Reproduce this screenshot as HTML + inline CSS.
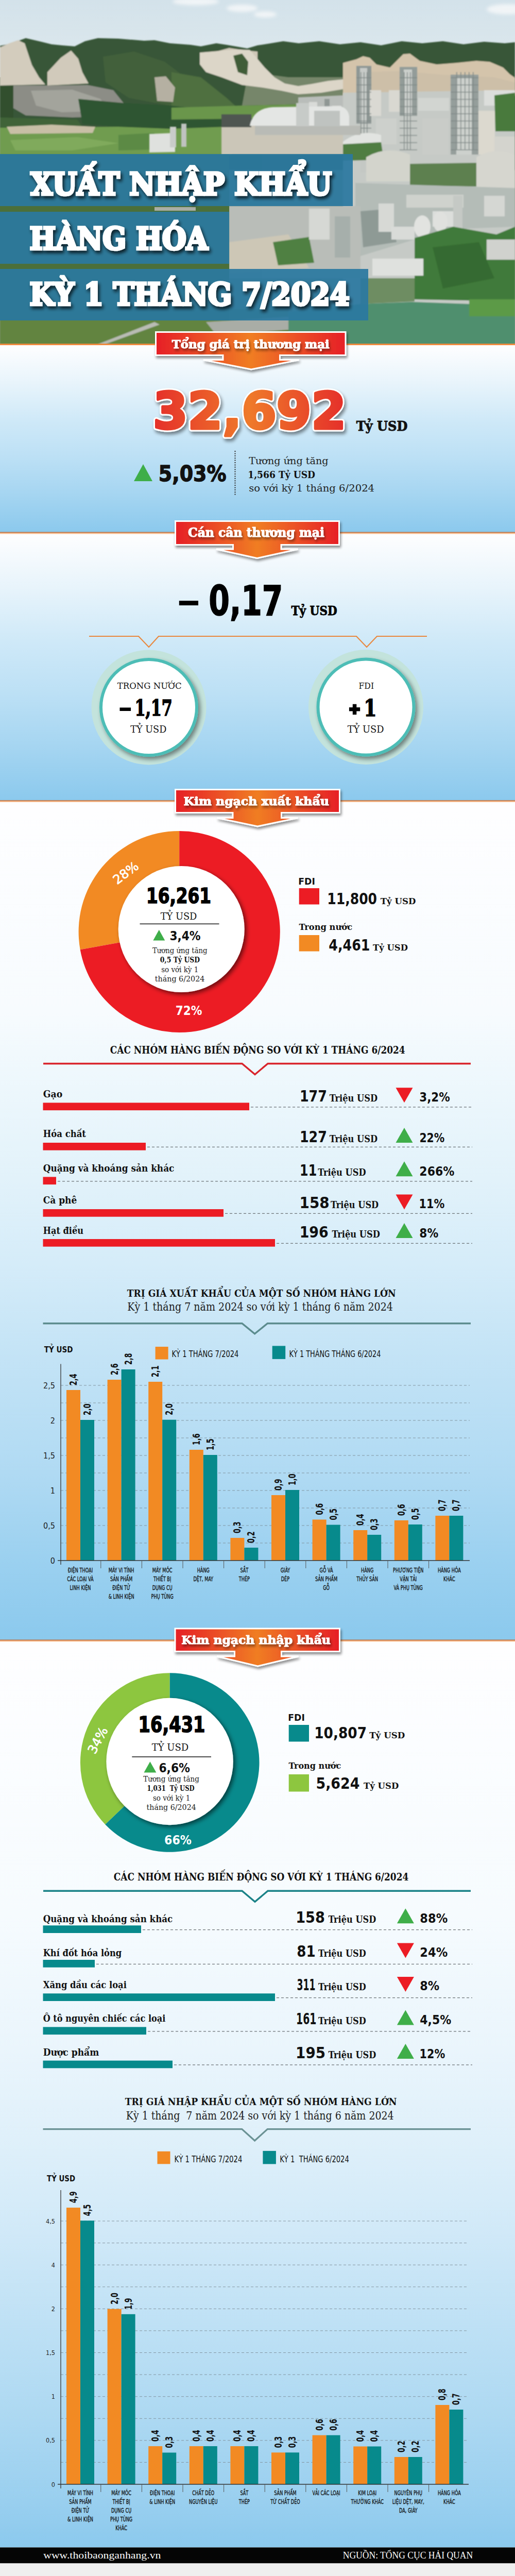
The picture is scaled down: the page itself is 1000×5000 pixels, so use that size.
<!DOCTYPE html><html lang="vi"><head><meta charset="utf-8"><title>Xuất nhập khẩu hàng hóa kỳ 1 tháng 7/2024</title><style>html,body{margin:0;padding:0;background:#fff}svg{display:block}</style></head><body>
<svg width="1000" height="5000" viewBox="0 0 1000 5000">
<defs>
<linearGradient id="gB" x1="0" y1="0" x2="0" y2="1"><stop offset="0" stop-color="#fefeff"/><stop offset="0.2" stop-color="#e8f4fb"/><stop offset="0.4" stop-color="#cfe9f8"/><stop offset="0.6" stop-color="#bce0f5"/><stop offset="0.8" stop-color="#a5d5f1"/><stop offset="1" stop-color="#8bc9ed"/></linearGradient>
<linearGradient id="gD" x1="0" y1="0" x2="0" y2="1"><stop offset="0" stop-color="#fefeff"/><stop offset="0.25" stop-color="#f7fbfe"/><stop offset="0.3" stop-color="#f1f9fd"/><stop offset="0.45" stop-color="#e2f2fa"/><stop offset="0.55" stop-color="#d5ecf9"/><stop offset="0.65" stop-color="#c5e4f6"/><stop offset="0.8" stop-color="#b0daf3"/><stop offset="0.9" stop-color="#9cd1f0"/><stop offset="1" stop-color="#8bc9ed"/></linearGradient>
<linearGradient id="gE" x1="0" y1="0" x2="0" y2="1"><stop offset="0" stop-color="#fefeff"/><stop offset="0.3" stop-color="#f6fbfe"/><stop offset="0.45" stop-color="#eaf5fc"/><stop offset="0.55" stop-color="#dff0fa"/><stop offset="0.65" stop-color="#d1e9f8"/><stop offset="0.75" stop-color="#bfe1f5"/><stop offset="0.85" stop-color="#aed9f2"/><stop offset="0.95" stop-color="#99cfef"/><stop offset="1" stop-color="#8bc9ed"/></linearGradient>
<linearGradient id="gRib" x1="0" y1="0" x2="1" y2="0">
 <stop offset="0" stop-color="#e61f27"/><stop offset="0.5" stop-color="#f07d24"/>
 <stop offset="1" stop-color="#e61f27"/></linearGradient>
<linearGradient id="gBig" gradientUnits="userSpaceOnUse" x1="298" y1="0" x2="668" y2="0">
 <stop offset="0" stop-color="#e5302a"/><stop offset="0.5" stop-color="#ef7a2a"/>
 <stop offset="1" stop-color="#e5302a"/></linearGradient>
<linearGradient id="gSky" x1="0" y1="0" x2="0" y2="1">
 <stop offset="0" stop-color="#d3e2ea"/><stop offset="1" stop-color="#dfe9ed"/></linearGradient>
<filter id="fSh" x="-10%" y="-20%" width="130%" height="160%">
 <feGaussianBlur in="SourceAlpha" stdDeviation="2.5"/><feOffset dx="2" dy="4" result="o"/>
 <feComponentTransfer><feFuncA type="linear" slope="0.45"/></feComponentTransfer>
 <feMerge><feMergeNode/><feMergeNode in="SourceGraphic"/></feMerge></filter>
<filter id="fTx" x="-10%" y="-20%" width="130%" height="160%">
 <feGaussianBlur in="SourceAlpha" stdDeviation="3"/><feOffset dx="3" dy="5" result="o"/>
 <feComponentTransfer><feFuncA type="linear" slope="0.75"/></feComponentTransfer>
 <feMerge><feMergeNode/><feMergeNode in="SourceGraphic"/></feMerge></filter>
<filter id="fBig" x="-10%" y="-20%" width="130%" height="160%">
 <feGaussianBlur in="SourceAlpha" stdDeviation="3"/><feOffset dx="3" dy="5" result="o"/>
 <feComponentTransfer><feFuncA type="linear" slope="0.45"/></feComponentTransfer>
 <feMerge><feMergeNode/><feMergeNode in="SourceGraphic"/></feMerge></filter>
<filter id="fCirc" x="-20%" y="-20%" width="150%" height="150%">
 <feGaussianBlur in="SourceAlpha" stdDeviation="4"/><feOffset dx="4" dy="5" result="o"/>
 <feComponentTransfer><feFuncA type="linear" slope="0.45"/></feComponentTransfer>
 <feMerge><feMergeNode/><feMergeNode in="SourceGraphic"/></feMerge></filter>
<filter id="fDon" x="-20%" y="-20%" width="150%" height="150%">
 <feGaussianBlur in="SourceAlpha" stdDeviation="4"/><feOffset dx="4" dy="4" result="o"/>
 <feComponentTransfer><feFuncA type="linear" slope="0.55"/></feComponentTransfer>
 <feMerge><feMergeNode/><feMergeNode in="SourceGraphic"/></feMerge></filter>
<filter id="blur1"><feGaussianBlur stdDeviation="1.2"/></filter>
<filter id="blur3"><feGaussianBlur stdDeviation="3"/></filter>
</defs>
<g id="hero">
<rect x="0.0" y="0.0" width="1000.0" height="668.0" fill="#8a9a86" />
<rect x="0.0" y="0.0" width="1000.0" height="150.0" fill="url(#gSky)" />
<g filter="url(#blur3)" fill="#f6f8f9" opacity="0.85"><ellipse cx="380" cy="3" rx="45" ry="7"/><ellipse cx="470" cy="16" rx="30" ry="7"/><ellipse cx="515" cy="28" rx="22" ry="6"/><ellipse cx="985" cy="18" rx="40" ry="10"/></g>
<g filter="url(#blur1)">
<polygon points="0,89 20,85 50,74 80,81 100,86 120,88 145,90 165,80 190,74 230,75 280,79 300,78 330,84 370,87 390,90 420,84 440,87 480,94 500,88 520,85 550,80 580,84 620,80 660,86 700,82 740,88 780,80 820,84 860,80 900,86 940,81 980,84 1000,82 1000,330 0,330" fill="#375638" />
<polygon points="200,110 260,100 320,120 360,150 400,190 330,205 250,190 205,160" fill="#42603b" />
<polygon points="333,140 390,150 440,190 462,210 333,212" fill="#4f7040" />
<polygon points="482,140 560,150 666,150 666,200 470,205" fill="#76866a" />
<polygon points="0,92 18,84 35,78 48,84 54,102 62,126 76,150 88,164 0,166" fill="#d3ccbd" />
<polygon points="92,140 118,112 138,98 152,114 160,140 172,162 92,166" fill="#d1cabb" />
<polygon points="300,150 322,148 340,170 336,198 305,196" fill="#b5b0a2" />
<polygon points="420,100 445,93 478,98 500,100 500,150 470,160 452,132" fill="#cfc8b8" />
<polygon points="388,102 423,99 462,96 485,97 498,112 514,131 533,150 553,162 579,167 605,163 637,157 666,154 666,173 624,180 579,183 546,176 510,170 470,165 430,150 400,140 388,125" fill="#dcd6c8" />
<polygon points="453,108 470,104 482,120 480,146 462,140" fill="#3f5d39" />
<polygon points="666,122 692,115 705,109 718,112 731,125 757,131 783,105 796,104 815,118 848,125 886,122 925,118 951,120 977,131 990,144 1000,151 1000,185 925,182 861,180 796,182 731,185 666,190" fill="#d4c4ab" />
<polygon points="700,140 780,138 860,145 960,150 1000,160 1000,185 700,190" fill="#cdbfa8" />
<polygon points="26,166 90,166 170,165 220,175 240,200 225,226 140,228 50,224 26,210" fill="#8c8d86" />
<polygon points="60,176 140,174 195,192 210,215 120,218 70,205" fill="#a3a49c" />
<polygon points="0,166 26,166 26,245 0,245" fill="#33502f" />
<polygon points="152,192 240,200 330,205 400,212 440,225 430,246 330,250 230,246 160,240" fill="#2e5430" />
<polygon points="0,228 150,232 160,246 0,248" fill="#3f6438" />
<polygon points="333,209 470,205 666,200 666,228 333,232" fill="#6a964c" />
<polygon points="0,248 230,246 330,250 440,246 450,300 0,300" fill="#6f9c50" />
<polygon points="13,246 100,242 185,246 180,258 20,260" fill="#c8bfa6" />
<polygon points="20,272 150,266 230,278 140,292 30,292" fill="#80aa5c" />
<polygon points="230,262 300,258 300,290 230,292" fill="#5c8a45" />
</g>
<g filter="url(#blur1)">
<polygon points="430,244 666,240 666,300 430,300" fill="#cbc6b8" />
<polygon points="430,222 488,222 488,247 430,247" fill="#4f5651" />
<polygon points="579,189 666,185 666,247 579,247" fill="#b9bdba" />
<rect x="600.0" y="198.0" width="16.0" height="48.0" fill="#d9dbd8" />
<rect x="630.0" y="192.0" width="10.0" height="55.0" fill="#8f9794" />
<rect x="645.0" y="205.0" width="18.0" height="40.0" fill="#d3d5d2" />
<polygon points="290,260 340,258 340,295 290,296" fill="#dfe1de" />
<rect x="330.0" y="246.0" width="12.0" height="40.0" fill="#c9ccc9" />
<rect x="352.0" y="240.0" width="10.0" height="45.0" fill="#bfc3c0" />
<polygon points="666,180 1000,175 1000,668 666,668" fill="#c6cac6" />
<rect x="692.0" y="128.0" width="29.0" height="112.0" fill="#8e9794" />
<rect x="699.0" y="132.0" width="14.0" height="105.0" fill="#c7cbc8" />
<rect x="718.0" y="175.0" width="22.0" height="50.0" fill="#dad9d3" />
<rect x="755.0" y="175.0" width="23.0" height="42.0" fill="#d9d8d1" />
<rect x="776.0" y="130.0" width="34.0" height="95.0" fill="#939c99" />
<rect x="784.0" y="135.0" width="16.0" height="88.0" fill="#ccd0cc" />
<rect x="875.0" y="145.0" width="54.0" height="155.0" fill="#959e9b" />
<rect x="886.0" y="150.0" width="30.0" height="150.0" fill="#cdd1cd" />
<rect x="929.0" y="215.0" width="32.0" height="85.0" fill="#dcd9cf" />
<rect x="960.0" y="265.0" width="40.0" height="50.0" fill="#d4d4ce" />
<rect x="940.0" y="175.0" width="60.0" height="30.0" fill="#dcdedb" />
<rect x="812.0" y="190.0" width="60.0" height="25.0" fill="#d2d5d1" />
<rect x="730.0" y="230.0" width="40.0" height="50.0" fill="#cdd0cc" />
<rect x="820.0" y="230.0" width="50.0" height="70.0" fill="#c9ccc8" />
<rect x="700.0" y="290.0" width="50.0" height="45.0" fill="#c4c8c4" />
<path d="M600,250 Q640,238 690,248 L690,262 L600,262 Z" fill="#e3e4e1"/>
<rect x="700.0" y="140.0" width="1.5" height="150.0" fill="#7f8886" />
<rect x="706.0" y="140.0" width="1.5" height="150.0" fill="#7f8886" />
<rect x="712.0" y="140.0" width="1.5" height="150.0" fill="#7f8886" />
<rect x="784.0" y="140.0" width="1.5" height="150.0" fill="#7f8886" />
<rect x="790.0" y="140.0" width="1.5" height="150.0" fill="#7f8886" />
<rect x="796.0" y="140.0" width="1.5" height="150.0" fill="#7f8886" />
<rect x="886.0" y="140.0" width="1.5" height="150.0" fill="#7f8886" />
<rect x="894.0" y="140.0" width="1.5" height="150.0" fill="#7f8886" />
<rect x="902.0" y="140.0" width="1.5" height="150.0" fill="#7f8886" />
<rect x="910.0" y="140.0" width="1.5" height="150.0" fill="#7f8886" />
<rect x="918.0" y="140.0" width="1.5" height="150.0" fill="#7f8886" />
<rect x="692.0" y="150.0" width="29.0" height="1.5" fill="#7f8886" />
<rect x="776.0" y="150.0" width="34.0" height="1.5" fill="#7f8886" />
<rect x="875.0" y="150.0" width="54.0" height="1.5" fill="#7f8886" />
<rect x="692.0" y="164.0" width="29.0" height="1.5" fill="#7f8886" />
<rect x="776.0" y="164.0" width="34.0" height="1.5" fill="#7f8886" />
<rect x="875.0" y="164.0" width="54.0" height="1.5" fill="#7f8886" />
<rect x="692.0" y="178.0" width="29.0" height="1.5" fill="#7f8886" />
<rect x="776.0" y="178.0" width="34.0" height="1.5" fill="#7f8886" />
<rect x="875.0" y="178.0" width="54.0" height="1.5" fill="#7f8886" />
<rect x="692.0" y="192.0" width="29.0" height="1.5" fill="#7f8886" />
<rect x="776.0" y="192.0" width="34.0" height="1.5" fill="#7f8886" />
<rect x="875.0" y="192.0" width="54.0" height="1.5" fill="#7f8886" />
<rect x="692.0" y="206.0" width="29.0" height="1.5" fill="#7f8886" />
<rect x="776.0" y="206.0" width="34.0" height="1.5" fill="#7f8886" />
<rect x="875.0" y="206.0" width="54.0" height="1.5" fill="#7f8886" />
<rect x="692.0" y="220.0" width="29.0" height="1.5" fill="#7f8886" />
<rect x="776.0" y="220.0" width="34.0" height="1.5" fill="#7f8886" />
<rect x="875.0" y="220.0" width="54.0" height="1.5" fill="#7f8886" />
<rect x="692.0" y="234.0" width="29.0" height="1.5" fill="#7f8886" />
<rect x="776.0" y="234.0" width="34.0" height="1.5" fill="#7f8886" />
<rect x="875.0" y="234.0" width="54.0" height="1.5" fill="#7f8886" />
<rect x="692.0" y="248.0" width="29.0" height="1.5" fill="#7f8886" />
<rect x="776.0" y="248.0" width="34.0" height="1.5" fill="#7f8886" />
<rect x="875.0" y="248.0" width="54.0" height="1.5" fill="#7f8886" />
<rect x="692.0" y="262.0" width="29.0" height="1.5" fill="#7f8886" />
<rect x="776.0" y="262.0" width="34.0" height="1.5" fill="#7f8886" />
<rect x="875.0" y="262.0" width="54.0" height="1.5" fill="#7f8886" />
<rect x="692.0" y="276.0" width="29.0" height="1.5" fill="#7f8886" />
<rect x="776.0" y="276.0" width="34.0" height="1.5" fill="#7f8886" />
<rect x="875.0" y="276.0" width="54.0" height="1.5" fill="#7f8886" />
<rect x="692.0" y="290.0" width="29.0" height="1.5" fill="#7f8886" />
<rect x="776.0" y="290.0" width="34.0" height="1.5" fill="#7f8886" />
<rect x="875.0" y="290.0" width="54.0" height="1.5" fill="#7f8886" />
<polygon points="960,185 1000,180 1000,255 962,255" fill="#4a7a3c" />
<path d="M666,275 Q700,250 740,262 L740,278 L666,280 Z" fill="#e2e4e1"/>
<polygon points="666,280 740,276 745,310 666,312" fill="#4f7d43" />
<path d="M485,244 Q492,210 530,208 L660,206 Q676,210 678,226 L678,244 Z" fill="#e4e6e4"/>
<polygon points="495,244 700,244 700,262 495,262" fill="#b9bbb6" />
<rect x="575.0" y="200.0" width="25.0" height="45.0" fill="#c7cbc8" />
<rect x="610.0" y="215.0" width="50.0" height="30.0" fill="#bfc3c0" />
<path d="M711,352 L711,305 Q750,282 796,300 L796,352 Z" fill="#d3d4cc"/>
<path d="M925,368 L925,305 Q960,285 1000,300 L1000,368 Z" fill="#d6d6cf"/>
<polygon points="796,318 925,316 925,362 796,360" fill="#5d8050" />
<polygon points="690,355 1000,365 1000,440 870,445 690,500" fill="#b4bcb7" />
<polygon points="789,378 900,378 900,403 789,403" fill="#cfd2cd" />
<polygon points="700,410 760,405 770,470 705,480" fill="#8e9a95" />
<rect x="880.0" y="380.0" width="18.0" height="70.0" fill="#c5c9c5" />
<rect x="735.0" y="395.0" width="30.0" height="55.0" fill="#d7d9d5" />
<rect x="840.0" y="410.0" width="40.0" height="30.0" fill="#dcdedb" />
<rect x="760.0" y="440.0" width="45.0" height="25.0" fill="#d9dbd8" />
<rect x="940.0" y="380.0" width="40.0" height="40.0" fill="#d5d7d3" />
<ellipse cx="820" cy="440" rx="16" ry="22" fill="#e2e3e0"/><ellipse cx="855" cy="430" rx="14" ry="20" fill="#e0e1de"/>
<polygon points="445,400 700,400 700,540 445,540" fill="#b9bdb8" />
<polygon points="445,470 560,455 600,520 445,530" fill="#cdc7b6" />
<polygon points="530,470 600,460 610,510 540,515" fill="#4f8043" />
<rect x="600.0" y="405.0" width="40.0" height="60.0" fill="#d6d8d4" />
<rect x="650.0" y="420.0" width="30.0" height="80.0" fill="#a6afab" />
<polygon points="805,462 880,440 964,455 1000,440 1000,585 805,581" fill="#417a3a" />
<polygon points="840,480 930,470 960,540 860,560" fill="#356b31" />
<polygon points="723,502 822,502 822,535 723,535" fill="#dfe1de" />
<polygon points="945,465 1000,465 1000,504 945,504" fill="#d0d2ce" />
<polygon points="700,540 805,540 805,585 700,590" fill="#6e8d62" />
<polygon points="911,581 1000,581 1000,614 911,614" fill="#5c9a46" />
<polygon points="560,605 700,590 800,586 911,590 911,614 1000,614 1000,668 560,668" fill="#4f8f6e" />
<polygon points="0,600 560,600 560,668 0,668" fill="#62843f" />
<polygon points="190,668 300,625 310,630 205,668" fill="#b9bcb4" />
<polygon points="400,625 560,615 560,640 420,650" fill="#a9ada6" />
</g>
<rect x="0.0" y="300.0" width="445.0" height="322.0" fill="#4b6f3a" />
<rect x="300.0" y="402.0" width="80.0" height="7.0" fill="#a9aea5" />
<g opacity="0.93">
<rect x="0.0" y="299.0" width="685.0" height="101.0" fill="#2b79a0" />
<rect x="0.0" y="411.0" width="445.0" height="101.0" fill="#2b79a0" />
<rect x="0.0" y="522.0" width="715.0" height="100.0" fill="#2b79a0" />
</g>
<rect x="0.0" y="667.0" width="1000.0" height="3.0" fill="#ef8a3e" />
</g>
<rect x="0.0" y="670.0" width="1000.0" height="363.0" fill="url(#gB)" />
<rect x="0.0" y="1035.5" width="1000.0" height="519.0" fill="url(#gB)" />
<rect x="0.0" y="1556.5" width="1000.0" height="1627.0" fill="url(#gD)" />
<rect x="0.0" y="3185.5" width="1000.0" height="1759.0" fill="url(#gE)" />
<rect x="0.0" y="1032.5" width="1000.0" height="1.6" fill="#b9784f" />
<rect x="0.0" y="1034.1" width="1000.0" height="1.6" fill="#ef9a5c" />
<rect x="0.0" y="1035.7" width="1000.0" height="1.0" fill="#fbd9bd" />
<rect x="0.0" y="1553.0" width="1000.0" height="1.6" fill="#b9784f" />
<rect x="0.0" y="1554.6" width="1000.0" height="1.6" fill="#ef9a5c" />
<rect x="0.0" y="1556.2" width="1000.0" height="1.0" fill="#fbd9bd" />
<rect x="0.0" y="3182.5" width="1000.0" height="1.6" fill="#b9784f" />
<rect x="0.0" y="3184.1" width="1000.0" height="1.6" fill="#ef9a5c" />
<rect x="0.0" y="3185.7" width="1000.0" height="1.0" fill="#fbd9bd" />
<rect x="0.0" y="4944.5" width="1000.0" height="31.0" fill="#050505" />
<rect x="0.0" y="4975.5" width="1000.0" height="24.5" fill="#efefef" />
<text x="84.2" y="4965.5" font-family="'Liberation Serif', 'DejaVu Serif', serif" font-size="19.5" font-weight="normal" fill="#ffffff" textLength="228.2" lengthAdjust="spacingAndGlyphs" >www.thoibaonganhang.vn</text>
<text x="665.7" y="4966.0" font-family="'Liberation Serif', 'DejaVu Serif', serif" font-size="18" font-weight="normal" fill="#ffffff" textLength="252.5" lengthAdjust="spacingAndGlyphs" >NGUỒN: TỔNG CỤC HẢI QUAN</text>
<g filter="url(#fTx)">
<text x="59.5" y="377.5" font-family="'DejaVu Serif', 'Liberation Serif', serif" font-size="59.5" font-weight="bold" fill="#ffffff" textLength="584.5" lengthAdjust="spacingAndGlyphs" stroke="#ffffff" stroke-width="4.6" stroke-linejoin="miter" stroke-miterlimit="2.5">XUẤT NHẬP KHẨU</text>
<text x="57.5" y="484.0" font-family="'DejaVu Serif', 'Liberation Serif', serif" font-size="59.5" font-weight="bold" fill="#ffffff" textLength="346.0" lengthAdjust="spacingAndGlyphs" stroke="#ffffff" stroke-width="4.6" stroke-linejoin="miter" stroke-miterlimit="2.5">HÀNG HÓA</text>
<text x="57.6" y="591.5" font-family="'DejaVu Serif', 'Liberation Serif', serif" font-size="59.5" font-weight="bold" fill="#ffffff" textLength="621.0" lengthAdjust="spacingAndGlyphs" stroke="#ffffff" stroke-width="4.6" stroke-linejoin="miter" stroke-miterlimit="2.5">KỲ 1 THÁNG 7/2024</text>
</g>
<g filter="url(#fSh)"><path d="M302.5,644.5 H671 V689.5 H543.5 V698.5 H580.5 L487.8,717 L395,698.5 H433 V689.5 H302.5 Z" fill="url(#gRib)" stroke="#ffffff" stroke-width="3" stroke-linejoin="miter"/></g>
<g filter="url(#fSh)">
<text x="333.8" y="675.5" font-family="'DejaVu Serif', 'Liberation Serif', serif" font-size="21.5" font-weight="bold" fill="#ffffff" textLength="305.8" lengthAdjust="spacingAndGlyphs" stroke="#ffffff" stroke-width="1.1">Tổng giá trị thương mại</text>
</g>
<g filter="url(#fBig)">
<text x="297.0" y="832.0" font-family="'DejaVu Sans', 'Liberation Sans', sans-serif" font-size="98" font-weight="bold" fill="#ffffff" textLength="375.0" lengthAdjust="spacingAndGlyphs" stroke="#ffffff" stroke-width="11" stroke-linejoin="round">32,692</text>
</g>
<text x="297.0" y="832.0" font-family="'DejaVu Sans', 'Liberation Sans', sans-serif" font-size="98" font-weight="bold" fill="url(#gBig)" textLength="375.0" lengthAdjust="spacingAndGlyphs" stroke="url(#gBig)" stroke-width="5" stroke-linejoin="round">32,692</text>
<text x="691.7" y="835.5" font-family="'DejaVu Serif', 'Liberation Serif', serif" font-size="26" font-weight="bold" fill="#111" textLength="99.6" lengthAdjust="spacingAndGlyphs" stroke="#111" stroke-width="0.9">Tỷ USD</text>
<polygon points="260.0,934.0 296.0,934.0 278.0,901.0" fill="#3fae49"/>
<text x="307.8" y="933.5" font-family="'DejaVu Sans', 'Liberation Sans', sans-serif" font-size="43" font-weight="bold" fill="#111" textLength="131.7" lengthAdjust="spacingAndGlyphs" stroke="#111" stroke-width="1.4">5,03%</text>
<line x1="456.5" y1="875" x2="456.5" y2="962" stroke="#333" stroke-width="2.2" stroke-dasharray="2 2.4"/>
<text x="483.2" y="901.0" font-family="'DejaVu Serif Condensed', 'DejaVu Serif', 'Liberation Serif', serif" font-size="19" font-weight="normal" fill="#222" textLength="154.4" lengthAdjust="spacingAndGlyphs" >Tương ứng tăng</text>
<text x="481.2" y="927.5" font-family="'DejaVu Serif Condensed', 'DejaVu Serif', 'Liberation Serif', serif" font-size="19" font-weight="bold" fill="#111" textLength="130.8" lengthAdjust="spacingAndGlyphs" >1,566 Tỷ USD</text>
<text x="483.2" y="954.0" font-family="'DejaVu Serif Condensed', 'DejaVu Serif', 'Liberation Serif', serif" font-size="19" font-weight="normal" fill="#222" textLength="243.9" lengthAdjust="spacingAndGlyphs" >so với kỳ 1 tháng 6/2024</text>
<g filter="url(#fSh)"><path d="M340.5,1011.5 H658.5 V1057.5 H546 V1066 H578.5 L499.2,1083.5 L420,1066 H452.5 V1057.5 H340.5 Z" fill="url(#gRib)" stroke="#ffffff" stroke-width="3" stroke-linejoin="miter"/></g>
<g filter="url(#fSh)">
<text x="365.0" y="1042.1" font-family="'DejaVu Serif', 'Liberation Serif', serif" font-size="24" font-weight="bold" fill="#ffffff" textLength="264.8" lengthAdjust="spacingAndGlyphs" stroke="#ffffff" stroke-width="1.1">Cán cân thương mại</text>
</g>
<rect x="347.8" y="1166.0" width="37.2" height="9.0" fill="#000" />
<text x="405.3" y="1194.0" font-family="'DejaVu Sans', 'Liberation Sans', sans-serif" font-size="80" font-weight="bold" fill="#000" textLength="144.2" lengthAdjust="spacingAndGlyphs" stroke="#000" stroke-width="1.6">0,17</text>
<text x="565.6" y="1193.5" font-family="'DejaVu Serif', 'Liberation Serif', serif" font-size="23.5" font-weight="bold" fill="#000" textLength="89.0" lengthAdjust="spacingAndGlyphs" stroke="#000" stroke-width="0.8">Tỷ USD</text>
<polyline points="173,1235 269,1235 289,1256 308,1235 692,1235 712,1256 732,1235 829,1235" fill="none" stroke="#e9883e" stroke-width="2.2"/>
<circle cx="289" cy="1373" r="111.5" fill="#c3e3dc"/>
<g filter="url(#fCirc)"><circle cx="289" cy="1373" r="93" fill="#ffffff" stroke="#4dbdb6" stroke-width="6"/></g>
<text x="227.7" y="1337.3" font-family="'DejaVu Serif Condensed', 'DejaVu Serif', 'Liberation Serif', serif" font-size="17.5" font-weight="normal" fill="#111" textLength="124.9" lengthAdjust="spacingAndGlyphs" >TRONG NƯỚC</text>
<rect x="232.5" y="1373.4" width="21.6" height="6.6" fill="#000" />
<text x="261.8" y="1388.8" font-family="'DejaVu Serif Condensed', 'DejaVu Serif', 'Liberation Serif', serif" font-size="42" font-weight="bold" fill="#000" textLength="72.9" lengthAdjust="spacingAndGlyphs" stroke="#000" stroke-width="1.6">1,17</text>
<text x="253.2" y="1421.5" font-family="'DejaVu Serif Condensed', 'DejaVu Serif', 'Liberation Serif', serif" font-size="17.8" font-weight="normal" fill="#111" textLength="70.1" lengthAdjust="spacingAndGlyphs" >TỶ USD</text>
<circle cx="710.5" cy="1372.5" r="111.5" fill="#c3e3dc"/>
<g filter="url(#fCirc)"><circle cx="710.5" cy="1372.5" r="93" fill="#ffffff" stroke="#4dbdb6" stroke-width="6"/></g>
<text x="696.5" y="1337.3" font-family="'DejaVu Serif Condensed', 'DejaVu Serif', 'Liberation Serif', serif" font-size="17.5" font-weight="normal" fill="#111" textLength="29.6" lengthAdjust="spacingAndGlyphs" >FDI</text>
<rect x="677.9" y="1373.0" width="21.3" height="7.4" fill="#000" />
<rect x="684.8" y="1366.7" width="7.5" height="20.4" fill="#000" />
<text x="706.4" y="1389.5" font-family="'DejaVu Serif', 'Liberation Serif', serif" font-size="44" font-weight="bold" fill="#000" textLength="24.9" lengthAdjust="spacingAndGlyphs" stroke="#000" stroke-width="1.6">1</text>
<text x="674.7" y="1421.5" font-family="'DejaVu Serif Condensed', 'DejaVu Serif', 'Liberation Serif', serif" font-size="17.8" font-weight="normal" fill="#111" textLength="70.8" lengthAdjust="spacingAndGlyphs" >TỶ USD</text>
<g filter="url(#fSh)"><path d="M340.5,1532.5 H659.5 V1577.5 H546.5 V1587.5 H578.5 L500.0,1604 L421.5,1587.5 H452 V1577.5 H340.5 Z" fill="url(#gRib)" stroke="#ffffff" stroke-width="3" stroke-linejoin="miter"/></g>
<g filter="url(#fSh)">
<text x="356.5" y="1562.9" font-family="'DejaVu Serif', 'Liberation Serif', serif" font-size="23" font-weight="bold" fill="#ffffff" textLength="282.3" lengthAdjust="spacingAndGlyphs" stroke="#ffffff" stroke-width="1.1">Kim ngạch xuất khẩu</text>
</g>
<path d="M155.69,1843.14 A195.6,195.6 0 0 1 348.20,1612.90 L348.20,1808.49 A0.01,0.01 0 0 0 348.19,1808.50 Z" fill="#f28a23"/>
<path d="M348.20,1612.90 A195.6,195.6 0 1 1 155.69,1843.14 L348.19,1808.50 A0.01,0.01 0 1 0 348.20,1808.49 Z" fill="#ec1c24"/>
<g filter="url(#fDon)"><circle cx="352.2" cy="1803.5" r="122.5" fill="#ffffff"/></g>
<text x="283.9" y="1753.0" font-family="'DejaVu Sans Condensed', 'DejaVu Sans', 'Liberation Sans', sans-serif" font-size="41" font-weight="bold" fill="#000" textLength="126.2" lengthAdjust="spacingAndGlyphs" stroke="#000" stroke-width="1.5">16,261</text>
<text x="311.7" y="1785.2" font-family="'DejaVu Serif Condensed', 'DejaVu Serif', 'Liberation Serif', serif" font-size="18" font-weight="normal" fill="#111" textLength="70.7" lengthAdjust="spacingAndGlyphs" >TỶ USD</text>
<rect x="271.5" y="1792.5" width="154.0" height="1.6" fill="#222" />
<polygon points="297.3,1825.6 320.3,1825.6 308.8,1804.7" fill="#3fae49"/>
<text x="329.4" y="1825.0" font-family="'DejaVu Sans', 'Liberation Sans', sans-serif" font-size="25.5" font-weight="bold" fill="#111" textLength="60.2" lengthAdjust="spacingAndGlyphs" >3,4%</text>
<text x="295.9" y="1849.5" font-family="'DejaVu Serif Condensed', 'DejaVu Serif', 'Liberation Serif', serif" font-size="15" font-weight="normal" fill="#222" textLength="106.7" lengthAdjust="spacingAndGlyphs" >Tương ứng tăng</text>
<text x="310.7" y="1868.2" font-family="'DejaVu Serif Condensed', 'DejaVu Serif', 'Liberation Serif', serif" font-size="15" font-weight="bold" fill="#111" textLength="77.4" lengthAdjust="spacingAndGlyphs" >0,5 Tỷ USD</text>
<text x="313.2" y="1886.8" font-family="'DejaVu Serif Condensed', 'DejaVu Serif', 'Liberation Serif', serif" font-size="15" font-weight="normal" fill="#222" textLength="72.1" lengthAdjust="spacingAndGlyphs" >so với kỳ 1</text>
<text x="300.7" y="1905.4" font-family="'DejaVu Serif Condensed', 'DejaVu Serif', 'Liberation Serif', serif" font-size="15" font-weight="normal" fill="#222" textLength="96.7" lengthAdjust="spacingAndGlyphs" >tháng 6/2024</text>
<text x="340.8" y="1969.5" font-family="'DejaVu Sans', 'Liberation Sans', sans-serif" font-size="24.5" font-weight="bold" fill="#ffffff" textLength="51.7" lengthAdjust="spacingAndGlyphs" >72%</text>
<text x="0.0" y="0.0" font-family="'DejaVu Sans', 'Liberation Sans', sans-serif" font-size="24.5" font-weight="normal" fill="#ffffff" stroke="#ffffff" stroke-width="0.7" transform="translate(227.5,1717.5) rotate(-37)">28%</text>
<text x="579.3" y="1716.7" font-family="'DejaVu Sans Condensed', 'DejaVu Sans', 'Liberation Sans', sans-serif" font-size="17" font-weight="bold" fill="#111" textLength="32.5" lengthAdjust="spacingAndGlyphs" >FDI</text>
<rect x="580.7" y="1724.0" width="39.3" height="31.5" fill="#ec1c24" />
<text x="635.2" y="1754.6" font-family="'DejaVu Sans', 'Liberation Sans', sans-serif" font-size="30" font-weight="bold" fill="#111" textLength="96.9" lengthAdjust="spacingAndGlyphs" >11,800</text>
<text x="738.7" y="1754.6" font-family="'DejaVu Serif', 'Liberation Serif', serif" font-size="17" font-weight="bold" fill="#111" textLength="68.6" lengthAdjust="spacingAndGlyphs" >Tỷ USD</text>
<text x="580.4" y="1805.2" font-family="'DejaVu Serif Condensed', 'DejaVu Serif', 'Liberation Serif', serif" font-size="17" font-weight="bold" fill="#111" textLength="103.7" lengthAdjust="spacingAndGlyphs" >Trong nước</text>
<rect x="580.7" y="1815.0" width="39.3" height="31.5" fill="#f28a23" />
<text x="638.3" y="1844.6" font-family="'DejaVu Sans', 'Liberation Sans', sans-serif" font-size="30" font-weight="bold" fill="#111" textLength="80.1" lengthAdjust="spacingAndGlyphs" >4,461</text>
<text x="724.1" y="1844.6" font-family="'DejaVu Serif', 'Liberation Serif', serif" font-size="17" font-weight="bold" fill="#111" textLength="67.8" lengthAdjust="spacingAndGlyphs" >Tỷ USD</text>
<text x="213.7" y="2044.8" font-family="'DejaVu Serif Condensed', 'DejaVu Serif', 'Liberation Serif', serif" font-size="20" font-weight="bold" fill="#111" textLength="573.0" lengthAdjust="spacingAndGlyphs" >CÁC NHÓM HÀNG BIẾN ĐỘNG SO VỚI KỲ 1 THÁNG 6/2024</text>
<polyline points="84,2064.5 470,2064.5 495,2085.5 520,2064.5 914,2064.5" fill="none" stroke="#d9252c" stroke-width="3.4"/>
<text x="83.7" y="2130.0" font-family="'DejaVu Serif', 'Liberation Serif', serif" font-size="19" font-weight="bold" fill="#111" textLength="37.5" lengthAdjust="spacingAndGlyphs" >Gạo</text>
<rect x="83.5" y="2140.4" width="400.5" height="14.7" fill="#ec1c24" />
<line x1="487.0" y1="2148.8" x2="917" y2="2148.8" stroke="#6d7377" stroke-width="1.3" stroke-dasharray="5 4"/>
<text x="581.9" y="2137.7" font-family="'DejaVu Sans Condensed', 'DejaVu Sans', 'Liberation Sans', sans-serif" font-size="30" font-weight="bold" fill="#111" textLength="53.0" lengthAdjust="spacingAndGlyphs" >177</text>
<text x="639.7" y="2137.7" font-family="'DejaVu Serif Condensed', 'DejaVu Serif', 'Liberation Serif', serif" font-size="18" font-weight="bold" fill="#111" textLength="93.5" lengthAdjust="spacingAndGlyphs" >Triệu USD</text>
<polygon points="768.5,2111.2 801.5,2111.2 785.0,2140.2" fill="#ec1c24"/>
<text x="814.3" y="2137.7" font-family="'DejaVu Sans', 'Liberation Sans', sans-serif" font-size="25" font-weight="bold" fill="#111" textLength="59.5" lengthAdjust="spacingAndGlyphs" >3,2%</text>
<text x="83.7" y="2207.0" font-family="'DejaVu Serif', 'Liberation Serif', serif" font-size="19" font-weight="bold" fill="#111" textLength="83.3" lengthAdjust="spacingAndGlyphs" >Hóa chất</text>
<rect x="83.5" y="2218.0" width="199.5" height="14.7" fill="#ec1c24" />
<line x1="286.0" y1="2226.3" x2="917" y2="2226.3" stroke="#6d7377" stroke-width="1.3" stroke-dasharray="5 4"/>
<text x="581.9" y="2216.5" font-family="'DejaVu Sans Condensed', 'DejaVu Sans', 'Liberation Sans', sans-serif" font-size="30" font-weight="bold" fill="#111" textLength="53.0" lengthAdjust="spacingAndGlyphs" >127</text>
<text x="639.7" y="2216.5" font-family="'DejaVu Serif Condensed', 'DejaVu Serif', 'Liberation Serif', serif" font-size="18" font-weight="bold" fill="#111" textLength="93.5" lengthAdjust="spacingAndGlyphs" >Triệu USD</text>
<polygon points="768.5,2218.0 801.5,2218.0 785.0,2189.0" fill="#3fae49"/>
<text x="814.4" y="2216.5" font-family="'DejaVu Sans', 'Liberation Sans', sans-serif" font-size="25" font-weight="bold" fill="#111" textLength="48.9" lengthAdjust="spacingAndGlyphs" >22%</text>
<text x="83.7" y="2273.5" font-family="'DejaVu Serif', 'Liberation Serif', serif" font-size="19" font-weight="bold" fill="#111" textLength="254.7" lengthAdjust="spacingAndGlyphs" >Quặng và khoáng sản khác</text>
<rect x="83.5" y="2284.4" width="25.5" height="14.7" fill="#ec1c24" />
<line x1="112.0" y1="2292.8" x2="917" y2="2292.8" stroke="#6d7377" stroke-width="1.3" stroke-dasharray="5 4"/>
<text x="582.1" y="2281.8" font-family="'DejaVu Sans Condensed', 'DejaVu Sans', 'Liberation Sans', sans-serif" font-size="30" font-weight="bold" fill="#111" textLength="33.1" lengthAdjust="spacingAndGlyphs" >11</text>
<text x="617.2" y="2281.8" font-family="'DejaVu Serif Condensed', 'DejaVu Serif', 'Liberation Serif', serif" font-size="18" font-weight="bold" fill="#111" textLength="93.5" lengthAdjust="spacingAndGlyphs" >Triệu USD</text>
<polygon points="768.5,2283.3 801.5,2283.3 785.0,2254.3" fill="#3fae49"/>
<text x="814.3" y="2281.8" font-family="'DejaVu Sans', 'Liberation Sans', sans-serif" font-size="25" font-weight="bold" fill="#111" textLength="68.1" lengthAdjust="spacingAndGlyphs" >266%</text>
<text x="83.7" y="2336.0" font-family="'DejaVu Serif', 'Liberation Serif', serif" font-size="19" font-weight="bold" fill="#111" textLength="65.6" lengthAdjust="spacingAndGlyphs" >Cà phê</text>
<rect x="83.5" y="2347.0" width="350.5" height="14.7" fill="#ec1c24" />
<line x1="437.0" y1="2355.3" x2="917" y2="2355.3" stroke="#6d7377" stroke-width="1.3" stroke-dasharray="5 4"/>
<text x="581.6" y="2345.1" font-family="'DejaVu Sans Condensed', 'DejaVu Sans', 'Liberation Sans', sans-serif" font-size="30" font-weight="bold" fill="#111" textLength="58.1" lengthAdjust="spacingAndGlyphs" >158</text>
<text x="642.0" y="2345.1" font-family="'DejaVu Serif Condensed', 'DejaVu Serif', 'Liberation Serif', serif" font-size="18" font-weight="bold" fill="#111" textLength="93.2" lengthAdjust="spacingAndGlyphs" >Triệu USD</text>
<polygon points="768.5,2318.6 801.5,2318.6 785.0,2347.6" fill="#ec1c24"/>
<text x="813.5" y="2345.1" font-family="'DejaVu Sans', 'Liberation Sans', sans-serif" font-size="25" font-weight="bold" fill="#111" textLength="49.7" lengthAdjust="spacingAndGlyphs" >11%</text>
<text x="83.7" y="2395.0" font-family="'DejaVu Serif', 'Liberation Serif', serif" font-size="19" font-weight="bold" fill="#111" textLength="78.3" lengthAdjust="spacingAndGlyphs" >Hạt điều</text>
<rect x="83.5" y="2405.0" width="450.5" height="14.7" fill="#ec1c24" />
<line x1="537.0" y1="2413.3" x2="917" y2="2413.3" stroke="#6d7377" stroke-width="1.3" stroke-dasharray="5 4"/>
<text x="581.7" y="2401.5" font-family="'DejaVu Sans Condensed', 'DejaVu Sans', 'Liberation Sans', sans-serif" font-size="30" font-weight="bold" fill="#111" textLength="56.0" lengthAdjust="spacingAndGlyphs" >196</text>
<text x="644.4" y="2401.5" font-family="'DejaVu Serif Condensed', 'DejaVu Serif', 'Liberation Serif', serif" font-size="18" font-weight="bold" fill="#111" textLength="93.5" lengthAdjust="spacingAndGlyphs" >Triệu USD</text>
<polygon points="768.5,2403.0 801.5,2403.0 785.0,2374.0" fill="#3fae49"/>
<text x="814.3" y="2401.5" font-family="'DejaVu Sans', 'Liberation Sans', sans-serif" font-size="25" font-weight="bold" fill="#111" textLength="36.9" lengthAdjust="spacingAndGlyphs" >8%</text>
<text x="246.7" y="2517.0" font-family="'DejaVu Serif Condensed', 'DejaVu Serif', 'Liberation Serif', serif" font-size="18.7" font-weight="bold" fill="#111" textLength="521.9" lengthAdjust="spacingAndGlyphs" >TRỊ GIÁ XUẤT KHẨU CỦA MỘT SỐ NHÓM HÀNG LỚN</text>
<text x="247.2" y="2544.4" font-family="'DejaVu Serif Condensed', 'DejaVu Serif', 'Liberation Serif', serif" font-size="22" font-weight="normal" fill="#222" textLength="515.7" lengthAdjust="spacingAndGlyphs" >Kỳ 1 tháng 7 năm 2024 so với kỳ 1 tháng 6 năm 2024</text>
<polyline points="83.5,2568.7 470,2568.7 494.6,2588.8 519.4,2568.7 914,2568.7" fill="none" stroke="#5c8c8e" stroke-width="3.4"/>
<line x1="118" y1="2995.0" x2="912" y2="2995.0" stroke="#7f8f99" stroke-width="1" stroke-dasharray="5 4" opacity="0.9"/>
<line x1="118" y1="2961.0" x2="912" y2="2961.0" stroke="#7f8f99" stroke-width="1" stroke-dasharray="5 4" opacity="0.9"/>
<line x1="118" y1="2927.0" x2="912" y2="2927.0" stroke="#7f8f99" stroke-width="1" stroke-dasharray="5 4" opacity="0.9"/>
<line x1="118" y1="2893.0" x2="912" y2="2893.0" stroke="#7f8f99" stroke-width="1" stroke-dasharray="5 4" opacity="0.9"/>
<line x1="118" y1="2859.0" x2="912" y2="2859.0" stroke="#7f8f99" stroke-width="1" stroke-dasharray="5 4" opacity="0.9"/>
<line x1="118" y1="2825.0" x2="912" y2="2825.0" stroke="#7f8f99" stroke-width="1" stroke-dasharray="5 4" opacity="0.9"/>
<line x1="118" y1="2791.0" x2="912" y2="2791.0" stroke="#7f8f99" stroke-width="1" stroke-dasharray="5 4" opacity="0.9"/>
<line x1="118" y1="2757.0" x2="912" y2="2757.0" stroke="#7f8f99" stroke-width="1" stroke-dasharray="5 4" opacity="0.9"/>
<line x1="118" y1="2723.0" x2="912" y2="2723.0" stroke="#7f8f99" stroke-width="1" stroke-dasharray="5 4" opacity="0.9"/>
<line x1="118" y1="2689.0" x2="912" y2="2689.0" stroke="#7f8f99" stroke-width="1" stroke-dasharray="5 4" opacity="0.9"/>
<rect x="129.0" y="2698.0" width="27.0" height="331.0" fill="#f28a23" />
<rect x="156.0" y="2756.0" width="27.0" height="273.0" fill="#078a8c" />
<text transform="translate(149.0,2689.0) rotate(-90)" x="0" y="0" font-family="'DejaVu Sans Condensed', 'DejaVu Sans', 'Liberation Sans', sans-serif" font-size="19" font-weight="bold" fill="#111" textLength="22.5" lengthAdjust="spacingAndGlyphs">2,4</text>
<text transform="translate(176.0,2747.0) rotate(-90)" x="0" y="0" font-family="'DejaVu Sans Condensed', 'DejaVu Sans', 'Liberation Sans', sans-serif" font-size="19" font-weight="bold" fill="#111" textLength="22.5" lengthAdjust="spacingAndGlyphs">2,0</text>
<rect x="208.6" y="2678.0" width="27.0" height="351.0" fill="#f28a23" />
<rect x="235.6" y="2658.0" width="27.0" height="371.0" fill="#078a8c" />
<text transform="translate(228.6,2669.0) rotate(-90)" x="0" y="0" font-family="'DejaVu Sans Condensed', 'DejaVu Sans', 'Liberation Sans', sans-serif" font-size="19" font-weight="bold" fill="#111" textLength="22.5" lengthAdjust="spacingAndGlyphs">2,6</text>
<text transform="translate(255.6,2649.0) rotate(-90)" x="0" y="0" font-family="'DejaVu Sans Condensed', 'DejaVu Sans', 'Liberation Sans', sans-serif" font-size="19" font-weight="bold" fill="#111" textLength="22.5" lengthAdjust="spacingAndGlyphs">2,8</text>
<rect x="288.2" y="2682.0" width="27.0" height="347.0" fill="#f28a23" />
<rect x="315.2" y="2755.7" width="27.0" height="273.3" fill="#078a8c" />
<text transform="translate(308.2,2673.0) rotate(-90)" x="0" y="0" font-family="'DejaVu Sans Condensed', 'DejaVu Sans', 'Liberation Sans', sans-serif" font-size="19" font-weight="bold" fill="#111" textLength="22.5" lengthAdjust="spacingAndGlyphs">2,1</text>
<text transform="translate(335.2,2746.7) rotate(-90)" x="0" y="0" font-family="'DejaVu Sans Condensed', 'DejaVu Sans', 'Liberation Sans', sans-serif" font-size="19" font-weight="bold" fill="#111" textLength="22.5" lengthAdjust="spacingAndGlyphs">2,0</text>
<rect x="367.8" y="2814.0" width="27.0" height="215.0" fill="#f28a23" />
<rect x="394.8" y="2824.0" width="27.0" height="205.0" fill="#078a8c" />
<text transform="translate(387.8,2805.0) rotate(-90)" x="0" y="0" font-family="'DejaVu Sans Condensed', 'DejaVu Sans', 'Liberation Sans', sans-serif" font-size="19" font-weight="bold" fill="#111" textLength="22.5" lengthAdjust="spacingAndGlyphs">1,6</text>
<text transform="translate(414.8,2815.0) rotate(-90)" x="0" y="0" font-family="'DejaVu Sans Condensed', 'DejaVu Sans', 'Liberation Sans', sans-serif" font-size="19" font-weight="bold" fill="#111" textLength="22.5" lengthAdjust="spacingAndGlyphs">1,5</text>
<rect x="447.4" y="2985.0" width="27.0" height="44.0" fill="#f28a23" />
<rect x="474.4" y="3004.0" width="27.0" height="25.0" fill="#078a8c" />
<text transform="translate(467.4,2976.0) rotate(-90)" x="0" y="0" font-family="'DejaVu Sans Condensed', 'DejaVu Sans', 'Liberation Sans', sans-serif" font-size="19" font-weight="bold" fill="#111" textLength="22.5" lengthAdjust="spacingAndGlyphs">0,3</text>
<text transform="translate(494.4,2995.0) rotate(-90)" x="0" y="0" font-family="'DejaVu Sans Condensed', 'DejaVu Sans', 'Liberation Sans', sans-serif" font-size="19" font-weight="bold" fill="#111" textLength="22.5" lengthAdjust="spacingAndGlyphs">0,2</text>
<rect x="527.0" y="2902.0" width="27.0" height="127.0" fill="#f28a23" />
<rect x="554.0" y="2892.0" width="27.0" height="137.0" fill="#078a8c" />
<text transform="translate(547.0,2893.0) rotate(-90)" x="0" y="0" font-family="'DejaVu Sans Condensed', 'DejaVu Sans', 'Liberation Sans', sans-serif" font-size="19" font-weight="bold" fill="#111" textLength="22.5" lengthAdjust="spacingAndGlyphs">0,9</text>
<text transform="translate(574.0,2883.0) rotate(-90)" x="0" y="0" font-family="'DejaVu Sans Condensed', 'DejaVu Sans', 'Liberation Sans', sans-serif" font-size="19" font-weight="bold" fill="#111" textLength="22.5" lengthAdjust="spacingAndGlyphs">1,0</text>
<rect x="606.6" y="2949.5" width="27.0" height="79.5" fill="#f28a23" />
<rect x="633.6" y="2959.6" width="27.0" height="69.4" fill="#078a8c" />
<text transform="translate(626.6,2940.5) rotate(-90)" x="0" y="0" font-family="'DejaVu Sans Condensed', 'DejaVu Sans', 'Liberation Sans', sans-serif" font-size="19" font-weight="bold" fill="#111" textLength="22.5" lengthAdjust="spacingAndGlyphs">0,6</text>
<text transform="translate(653.6,2950.6) rotate(-90)" x="0" y="0" font-family="'DejaVu Sans Condensed', 'DejaVu Sans', 'Liberation Sans', sans-serif" font-size="19" font-weight="bold" fill="#111" textLength="22.5" lengthAdjust="spacingAndGlyphs">0,5</text>
<rect x="686.2" y="2970.0" width="27.0" height="59.0" fill="#f28a23" />
<rect x="713.2" y="2979.0" width="27.0" height="50.0" fill="#078a8c" />
<text transform="translate(706.2,2961.0) rotate(-90)" x="0" y="0" font-family="'DejaVu Sans Condensed', 'DejaVu Sans', 'Liberation Sans', sans-serif" font-size="19" font-weight="bold" fill="#111" textLength="22.5" lengthAdjust="spacingAndGlyphs">0,4</text>
<text transform="translate(733.2,2970.0) rotate(-90)" x="0" y="0" font-family="'DejaVu Sans Condensed', 'DejaVu Sans', 'Liberation Sans', sans-serif" font-size="19" font-weight="bold" fill="#111" textLength="22.5" lengthAdjust="spacingAndGlyphs">0,3</text>
<rect x="765.8" y="2951.0" width="27.0" height="78.0" fill="#f28a23" />
<rect x="792.8" y="2959.0" width="27.0" height="70.0" fill="#078a8c" />
<text transform="translate(785.8,2942.0) rotate(-90)" x="0" y="0" font-family="'DejaVu Sans Condensed', 'DejaVu Sans', 'Liberation Sans', sans-serif" font-size="19" font-weight="bold" fill="#111" textLength="22.5" lengthAdjust="spacingAndGlyphs">0,6</text>
<text transform="translate(812.8,2950.0) rotate(-90)" x="0" y="0" font-family="'DejaVu Sans Condensed', 'DejaVu Sans', 'Liberation Sans', sans-serif" font-size="19" font-weight="bold" fill="#111" textLength="22.5" lengthAdjust="spacingAndGlyphs">0,5</text>
<rect x="845.4" y="2942.0" width="27.0" height="87.0" fill="#f28a23" />
<rect x="872.4" y="2942.0" width="27.0" height="87.0" fill="#078a8c" />
<text transform="translate(865.4,2933.0) rotate(-90)" x="0" y="0" font-family="'DejaVu Sans Condensed', 'DejaVu Sans', 'Liberation Sans', sans-serif" font-size="19" font-weight="bold" fill="#111" textLength="22.5" lengthAdjust="spacingAndGlyphs">0,7</text>
<text transform="translate(892.4,2933.0) rotate(-90)" x="0" y="0" font-family="'DejaVu Sans Condensed', 'DejaVu Sans', 'Liberation Sans', sans-serif" font-size="19" font-weight="bold" fill="#111" textLength="22.5" lengthAdjust="spacingAndGlyphs">0,7</text>
<line x1="118" y1="2647.5" x2="118" y2="3037" stroke="#333" stroke-width="1.3"/>
<line x1="112" y1="3029" x2="912" y2="3029" stroke="#333" stroke-width="1.3"/>
<line x1="195.8" y1="3029" x2="195.8" y2="3044" stroke="#555" stroke-width="1"/>
<line x1="275.4" y1="3029" x2="275.4" y2="3044" stroke="#555" stroke-width="1"/>
<line x1="355.0" y1="3029" x2="355.0" y2="3044" stroke="#555" stroke-width="1"/>
<line x1="434.6" y1="3029" x2="434.6" y2="3044" stroke="#555" stroke-width="1"/>
<line x1="514.2" y1="3029" x2="514.2" y2="3044" stroke="#555" stroke-width="1"/>
<line x1="593.8" y1="3029" x2="593.8" y2="3044" stroke="#555" stroke-width="1"/>
<line x1="673.4" y1="3029" x2="673.4" y2="3044" stroke="#555" stroke-width="1"/>
<line x1="753.0" y1="3029" x2="753.0" y2="3044" stroke="#555" stroke-width="1"/>
<line x1="832.6" y1="3029" x2="832.6" y2="3044" stroke="#555" stroke-width="1"/>
<text x="107.0" y="3034.8" font-family="'DejaVu Sans Condensed', 'DejaVu Sans', 'Liberation Sans', sans-serif" font-size="16" font-weight="normal" fill="#222" text-anchor="end" >0</text>
<text x="107.0" y="2966.8" font-family="'DejaVu Sans Condensed', 'DejaVu Sans', 'Liberation Sans', sans-serif" font-size="16" font-weight="normal" fill="#222" text-anchor="end" >0,5</text>
<text x="107.0" y="2898.8" font-family="'DejaVu Sans Condensed', 'DejaVu Sans', 'Liberation Sans', sans-serif" font-size="16" font-weight="normal" fill="#222" text-anchor="end" >1</text>
<text x="107.0" y="2830.8" font-family="'DejaVu Sans Condensed', 'DejaVu Sans', 'Liberation Sans', sans-serif" font-size="16" font-weight="normal" fill="#222" text-anchor="end" >1,5</text>
<text x="107.0" y="2762.8" font-family="'DejaVu Sans Condensed', 'DejaVu Sans', 'Liberation Sans', sans-serif" font-size="16" font-weight="normal" fill="#222" text-anchor="end" >2</text>
<text x="107.0" y="2694.8" font-family="'DejaVu Sans Condensed', 'DejaVu Sans', 'Liberation Sans', sans-serif" font-size="16" font-weight="normal" fill="#222" text-anchor="end" >2,5</text>
<text x="156.0" y="3052.0" font-family="'DejaVu Sans Condensed', 'DejaVu Sans', 'Liberation Sans', sans-serif" font-size="13" font-weight="normal" fill="#111" text-anchor="middle" stroke="#111" stroke-width="0.3" transform="translate(156.0,0) scale(0.7,1) translate(-156.0,0)">ĐIỆN THOẠI</text>
<text x="156.0" y="3069.0" font-family="'DejaVu Sans Condensed', 'DejaVu Sans', 'Liberation Sans', sans-serif" font-size="13" font-weight="normal" fill="#111" text-anchor="middle" stroke="#111" stroke-width="0.3" transform="translate(156.0,0) scale(0.7,1) translate(-156.0,0)">CÁC LOẠI VÀ</text>
<text x="156.0" y="3086.0" font-family="'DejaVu Sans Condensed', 'DejaVu Sans', 'Liberation Sans', sans-serif" font-size="13" font-weight="normal" fill="#111" text-anchor="middle" stroke="#111" stroke-width="0.3" transform="translate(156.0,0) scale(0.7,1) translate(-156.0,0)">LINH KIỆN</text>
<text x="235.6" y="3052.0" font-family="'DejaVu Sans Condensed', 'DejaVu Sans', 'Liberation Sans', sans-serif" font-size="13" font-weight="normal" fill="#111" text-anchor="middle" stroke="#111" stroke-width="0.3" transform="translate(235.6,0) scale(0.7,1) translate(-235.6,0)">MÁY VI TÍNH</text>
<text x="235.6" y="3069.0" font-family="'DejaVu Sans Condensed', 'DejaVu Sans', 'Liberation Sans', sans-serif" font-size="13" font-weight="normal" fill="#111" text-anchor="middle" stroke="#111" stroke-width="0.3" transform="translate(235.6,0) scale(0.7,1) translate(-235.6,0)">SẢN PHẨM</text>
<text x="235.6" y="3086.0" font-family="'DejaVu Sans Condensed', 'DejaVu Sans', 'Liberation Sans', sans-serif" font-size="13" font-weight="normal" fill="#111" text-anchor="middle" stroke="#111" stroke-width="0.3" transform="translate(235.6,0) scale(0.7,1) translate(-235.6,0)">ĐIỆN TỬ</text>
<text x="235.6" y="3103.0" font-family="'DejaVu Sans Condensed', 'DejaVu Sans', 'Liberation Sans', sans-serif" font-size="13" font-weight="normal" fill="#111" text-anchor="middle" stroke="#111" stroke-width="0.3" transform="translate(235.6,0) scale(0.7,1) translate(-235.6,0)">&amp; LINH KIỆN</text>
<text x="315.2" y="3052.0" font-family="'DejaVu Sans Condensed', 'DejaVu Sans', 'Liberation Sans', sans-serif" font-size="13" font-weight="normal" fill="#111" text-anchor="middle" stroke="#111" stroke-width="0.3" transform="translate(315.2,0) scale(0.7,1) translate(-315.2,0)">MÁY MÓC</text>
<text x="315.2" y="3069.0" font-family="'DejaVu Sans Condensed', 'DejaVu Sans', 'Liberation Sans', sans-serif" font-size="13" font-weight="normal" fill="#111" text-anchor="middle" stroke="#111" stroke-width="0.3" transform="translate(315.2,0) scale(0.7,1) translate(-315.2,0)">THIẾT BỊ</text>
<text x="315.2" y="3086.0" font-family="'DejaVu Sans Condensed', 'DejaVu Sans', 'Liberation Sans', sans-serif" font-size="13" font-weight="normal" fill="#111" text-anchor="middle" stroke="#111" stroke-width="0.3" transform="translate(315.2,0) scale(0.7,1) translate(-315.2,0)">DỤNG CỤ</text>
<text x="315.2" y="3103.0" font-family="'DejaVu Sans Condensed', 'DejaVu Sans', 'Liberation Sans', sans-serif" font-size="13" font-weight="normal" fill="#111" text-anchor="middle" stroke="#111" stroke-width="0.3" transform="translate(315.2,0) scale(0.7,1) translate(-315.2,0)">PHỤ TÙNG</text>
<text x="394.8" y="3052.0" font-family="'DejaVu Sans Condensed', 'DejaVu Sans', 'Liberation Sans', sans-serif" font-size="13" font-weight="normal" fill="#111" text-anchor="middle" stroke="#111" stroke-width="0.3" transform="translate(394.8,0) scale(0.7,1) translate(-394.8,0)">HÀNG</text>
<text x="394.8" y="3069.0" font-family="'DejaVu Sans Condensed', 'DejaVu Sans', 'Liberation Sans', sans-serif" font-size="13" font-weight="normal" fill="#111" text-anchor="middle" stroke="#111" stroke-width="0.3" transform="translate(394.8,0) scale(0.7,1) translate(-394.8,0)">DỆT, MAY</text>
<text x="474.4" y="3052.0" font-family="'DejaVu Sans Condensed', 'DejaVu Sans', 'Liberation Sans', sans-serif" font-size="13" font-weight="normal" fill="#111" text-anchor="middle" stroke="#111" stroke-width="0.3" transform="translate(474.4,0) scale(0.7,1) translate(-474.4,0)">SẮT</text>
<text x="474.4" y="3069.0" font-family="'DejaVu Sans Condensed', 'DejaVu Sans', 'Liberation Sans', sans-serif" font-size="13" font-weight="normal" fill="#111" text-anchor="middle" stroke="#111" stroke-width="0.3" transform="translate(474.4,0) scale(0.7,1) translate(-474.4,0)">THÉP</text>
<text x="554.0" y="3052.0" font-family="'DejaVu Sans Condensed', 'DejaVu Sans', 'Liberation Sans', sans-serif" font-size="13" font-weight="normal" fill="#111" text-anchor="middle" stroke="#111" stroke-width="0.3" transform="translate(554.0,0) scale(0.7,1) translate(-554.0,0)">GIÀY</text>
<text x="554.0" y="3069.0" font-family="'DejaVu Sans Condensed', 'DejaVu Sans', 'Liberation Sans', sans-serif" font-size="13" font-weight="normal" fill="#111" text-anchor="middle" stroke="#111" stroke-width="0.3" transform="translate(554.0,0) scale(0.7,1) translate(-554.0,0)">DÉP</text>
<text x="633.6" y="3052.0" font-family="'DejaVu Sans Condensed', 'DejaVu Sans', 'Liberation Sans', sans-serif" font-size="13" font-weight="normal" fill="#111" text-anchor="middle" stroke="#111" stroke-width="0.3" transform="translate(633.6,0) scale(0.7,1) translate(-633.6,0)">GỖ VÀ</text>
<text x="633.6" y="3069.0" font-family="'DejaVu Sans Condensed', 'DejaVu Sans', 'Liberation Sans', sans-serif" font-size="13" font-weight="normal" fill="#111" text-anchor="middle" stroke="#111" stroke-width="0.3" transform="translate(633.6,0) scale(0.7,1) translate(-633.6,0)">SẢN PHẨM</text>
<text x="633.6" y="3086.0" font-family="'DejaVu Sans Condensed', 'DejaVu Sans', 'Liberation Sans', sans-serif" font-size="13" font-weight="normal" fill="#111" text-anchor="middle" stroke="#111" stroke-width="0.3" transform="translate(633.6,0) scale(0.7,1) translate(-633.6,0)">GỖ</text>
<text x="713.2" y="3052.0" font-family="'DejaVu Sans Condensed', 'DejaVu Sans', 'Liberation Sans', sans-serif" font-size="13" font-weight="normal" fill="#111" text-anchor="middle" stroke="#111" stroke-width="0.3" transform="translate(713.2,0) scale(0.7,1) translate(-713.2,0)">HÀNG</text>
<text x="713.2" y="3069.0" font-family="'DejaVu Sans Condensed', 'DejaVu Sans', 'Liberation Sans', sans-serif" font-size="13" font-weight="normal" fill="#111" text-anchor="middle" stroke="#111" stroke-width="0.3" transform="translate(713.2,0) scale(0.7,1) translate(-713.2,0)">THỦY SẢN</text>
<text x="792.8" y="3052.0" font-family="'DejaVu Sans Condensed', 'DejaVu Sans', 'Liberation Sans', sans-serif" font-size="13" font-weight="normal" fill="#111" text-anchor="middle" stroke="#111" stroke-width="0.3" transform="translate(792.8,0) scale(0.7,1) translate(-792.8,0)">PHƯƠNG TIỆN</text>
<text x="792.8" y="3069.0" font-family="'DejaVu Sans Condensed', 'DejaVu Sans', 'Liberation Sans', sans-serif" font-size="13" font-weight="normal" fill="#111" text-anchor="middle" stroke="#111" stroke-width="0.3" transform="translate(792.8,0) scale(0.7,1) translate(-792.8,0)">VẬN TẢI</text>
<text x="792.8" y="3086.0" font-family="'DejaVu Sans Condensed', 'DejaVu Sans', 'Liberation Sans', sans-serif" font-size="13" font-weight="normal" fill="#111" text-anchor="middle" stroke="#111" stroke-width="0.3" transform="translate(792.8,0) scale(0.7,1) translate(-792.8,0)">VÀ PHỤ TÙNG</text>
<text x="872.4" y="3052.0" font-family="'DejaVu Sans Condensed', 'DejaVu Sans', 'Liberation Sans', sans-serif" font-size="13" font-weight="normal" fill="#111" text-anchor="middle" stroke="#111" stroke-width="0.3" transform="translate(872.4,0) scale(0.7,1) translate(-872.4,0)">HÀNG HÓA</text>
<text x="872.4" y="3069.0" font-family="'DejaVu Sans Condensed', 'DejaVu Sans', 'Liberation Sans', sans-serif" font-size="13" font-weight="normal" fill="#111" text-anchor="middle" stroke="#111" stroke-width="0.3" transform="translate(872.4,0) scale(0.7,1) translate(-872.4,0)">KHÁC</text>
<rect x="301.6" y="2614.0" width="25.0" height="24.5" fill="#f28a23" />
<text x="333.5" y="2634.0" font-family="'DejaVu Sans Condensed', 'DejaVu Sans', 'Liberation Sans', sans-serif" font-size="17" font-weight="normal" fill="#111" textLength="129.9" lengthAdjust="spacingAndGlyphs" >KỲ 1 THÁNG 7/2024</text>
<rect x="528.7" y="2612.4" width="25.5" height="25.5" fill="#078a8c" />
<text x="561.6" y="2634.0" font-family="'DejaVu Sans Condensed', 'DejaVu Sans', 'Liberation Sans', sans-serif" font-size="17" font-weight="normal" fill="#111" textLength="177.8" lengthAdjust="spacingAndGlyphs" >KỲ 1 THÁNG THÁNG 6/2024</text>
<text x="85.7" y="2625.0" font-family="'DejaVu Sans Condensed', 'DejaVu Sans', 'Liberation Sans', sans-serif" font-size="16.5" font-weight="bold" fill="#111" textLength="55.8" lengthAdjust="spacingAndGlyphs" >TỶ USD</text>
<g filter="url(#fSh)"><path d="M340,3161 H659.5 V3205.5 H546.5 V3215 H579.5 L500.5,3234 L421.5,3215 H455.5 V3205.5 H340 Z" fill="url(#gRib)" stroke="#ffffff" stroke-width="3" stroke-linejoin="miter"/></g>
<g filter="url(#fSh)">
<text x="352.2" y="3191.1" font-family="'DejaVu Serif', 'Liberation Serif', serif" font-size="23" font-weight="bold" fill="#ffffff" textLength="289.7" lengthAdjust="spacingAndGlyphs" stroke="#ffffff" stroke-width="1.1">Kim ngạch nhập khẩu</text>
</g>
<path d="M204.26,3541.29 A173.8,173.8 0 0 1 329.70,3247.20 L329.70,3420.99 A0.01,0.01 0 0 0 329.69,3421.01 Z" fill="#8dc63f"/>
<path d="M329.70,3247.20 A173.8,173.8 0 1 1 204.26,3541.29 L329.69,3421.01 A0.01,0.01 0 1 0 329.70,3420.99 Z" fill="#088a8c"/>
<g filter="url(#fDon)"><circle cx="329.6" cy="3419" r="123.2" fill="#ffffff"/></g>
<text x="268.6" y="3362.3" font-family="'DejaVu Sans Condensed', 'DejaVu Sans', 'Liberation Sans', sans-serif" font-size="42" font-weight="bold" fill="#000" textLength="129.9" lengthAdjust="spacingAndGlyphs" stroke="#000" stroke-width="1.5">16,431</text>
<text x="294.7" y="3397.6" font-family="'DejaVu Serif Condensed', 'DejaVu Serif', 'Liberation Serif', serif" font-size="18" font-weight="normal" fill="#111" textLength="71.5" lengthAdjust="spacingAndGlyphs" >TỶ USD</text>
<rect x="256.3" y="3409.2" width="153.7" height="1.6" fill="#222" />
<polygon points="279.5,3440.4 303.4,3440.4 291.4,3419.3" fill="#3fae49"/>
<text x="308.4" y="3439.5" font-family="'DejaVu Sans', 'Liberation Sans', sans-serif" font-size="25.5" font-weight="bold" fill="#111" textLength="60.6" lengthAdjust="spacingAndGlyphs" >6,6%</text>
<text x="278.3" y="3457.5" font-family="'DejaVu Serif Condensed', 'DejaVu Serif', 'Liberation Serif', serif" font-size="15" font-weight="normal" fill="#222" textLength="108.5" lengthAdjust="spacingAndGlyphs" >Tương ứng tăng</text>
<text x="285.5" y="3475.5" font-family="'DejaVu Serif Condensed', 'DejaVu Serif', 'Liberation Serif', serif" font-size="15" font-weight="bold" fill="#111" textLength="92.1" lengthAdjust="spacingAndGlyphs" >1,031  Tỷ USD</text>
<text x="296.9" y="3494.7" font-family="'DejaVu Serif Condensed', 'DejaVu Serif', 'Liberation Serif', serif" font-size="15" font-weight="normal" fill="#222" textLength="72.4" lengthAdjust="spacingAndGlyphs" >so với kỳ 1</text>
<text x="284.5" y="3512.5" font-family="'DejaVu Serif Condensed', 'DejaVu Serif', 'Liberation Serif', serif" font-size="15" font-weight="normal" fill="#222" textLength="96.3" lengthAdjust="spacingAndGlyphs" >tháng 6/2024</text>
<text x="319.0" y="3580.2" font-family="'DejaVu Sans', 'Liberation Sans', sans-serif" font-size="25" font-weight="bold" fill="#ffffff" textLength="52.9" lengthAdjust="spacingAndGlyphs" >66%</text>
<text x="0.0" y="0.0" font-family="'DejaVu Sans', 'Liberation Sans', sans-serif" font-size="24.5" font-weight="normal" fill="#ffffff" stroke="#ffffff" stroke-width="0.7" transform="translate(184.5,3406) rotate(-62)">34%</text>
<text x="559.3" y="3340.0" font-family="'DejaVu Sans Condensed', 'DejaVu Sans', 'Liberation Sans', sans-serif" font-size="17" font-weight="bold" fill="#111" textLength="32.5" lengthAdjust="spacingAndGlyphs" >FDI</text>
<rect x="560.7" y="3348.0" width="39.3" height="32.5" fill="#088a8c" />
<text x="610.2" y="3374.0" font-family="'DejaVu Sans', 'Liberation Sans', sans-serif" font-size="30" font-weight="bold" fill="#111" textLength="101.9" lengthAdjust="spacingAndGlyphs" >10,807</text>
<text x="717.2" y="3374.0" font-family="'DejaVu Serif', 'Liberation Serif', serif" font-size="17" font-weight="bold" fill="#111" textLength="69.1" lengthAdjust="spacingAndGlyphs" >Tỷ USD</text>
<text x="560.4" y="3433.0" font-family="'DejaVu Serif Condensed', 'DejaVu Serif', 'Liberation Serif', serif" font-size="17" font-weight="bold" fill="#111" textLength="101.8" lengthAdjust="spacingAndGlyphs" >Trong nước</text>
<rect x="560.7" y="3444.0" width="39.3" height="33.5" fill="#8dc63f" />
<text x="613.4" y="3471.8" font-family="'DejaVu Sans', 'Liberation Sans', sans-serif" font-size="30" font-weight="bold" fill="#111" textLength="85.2" lengthAdjust="spacingAndGlyphs" >5,624</text>
<text x="706.0" y="3471.8" font-family="'DejaVu Serif', 'Liberation Serif', serif" font-size="17" font-weight="bold" fill="#111" textLength="68.2" lengthAdjust="spacingAndGlyphs" >Tỷ USD</text>
<text x="220.8" y="3649.5" font-family="'DejaVu Serif Condensed', 'DejaVu Serif', 'Liberation Serif', serif" font-size="20" font-weight="bold" fill="#111" textLength="572.5" lengthAdjust="spacingAndGlyphs" >CÁC NHÓM HÀNG BIẾN ĐỘNG SO VỚI KỲ 1 THÁNG 6/2024</text>
<polyline points="84,3670.3 470,3670.3 495,3691.3 520,3670.3 914,3670.3" fill="none" stroke="#1a8287" stroke-width="3.4"/>
<text x="83.7" y="3731.0" font-family="'DejaVu Serif', 'Liberation Serif', serif" font-size="19" font-weight="bold" fill="#111" textLength="251.6" lengthAdjust="spacingAndGlyphs" >Quặng và khoáng sản khác</text>
<rect x="83.5" y="3737.3" width="190.5" height="14.7" fill="#088a8c" />
<line x1="277.0" y1="3745.7" x2="917" y2="3745.7" stroke="#6d7377" stroke-width="1.3" stroke-dasharray="5 4"/>
<text x="574.2" y="3731.8" font-family="'DejaVu Sans Condensed', 'DejaVu Sans', 'Liberation Sans', sans-serif" font-size="30" font-weight="bold" fill="#111" textLength="56.8" lengthAdjust="spacingAndGlyphs" >158</text>
<text x="637.4" y="3731.8" font-family="'DejaVu Serif Condensed', 'DejaVu Serif', 'Liberation Serif', serif" font-size="18" font-weight="bold" fill="#111" textLength="92.8" lengthAdjust="spacingAndGlyphs" >Triệu USD</text>
<polygon points="770.9,3733.3 803.9,3733.3 787.4,3704.3" fill="#3fae49"/>
<text x="815.3" y="3731.8" font-family="'DejaVu Sans', 'Liberation Sans', sans-serif" font-size="25" font-weight="bold" fill="#111" textLength="53.9" lengthAdjust="spacingAndGlyphs" >88%</text>
<text x="83.7" y="3797.0" font-family="'DejaVu Serif', 'Liberation Serif', serif" font-size="19" font-weight="bold" fill="#111" textLength="152.5" lengthAdjust="spacingAndGlyphs" >Khí đốt hóa lỏng</text>
<rect x="83.5" y="3804.0" width="100.5" height="14.7" fill="#088a8c" />
<line x1="187.0" y1="3812.3" x2="917" y2="3812.3" stroke="#6d7377" stroke-width="1.3" stroke-dasharray="5 4"/>
<text x="576.2" y="3797.9" font-family="'DejaVu Sans Condensed', 'DejaVu Sans', 'Liberation Sans', sans-serif" font-size="30" font-weight="bold" fill="#111" textLength="36.4" lengthAdjust="spacingAndGlyphs" >81</text>
<text x="618.0" y="3797.9" font-family="'DejaVu Serif Condensed', 'DejaVu Serif', 'Liberation Serif', serif" font-size="18" font-weight="bold" fill="#111" textLength="92.7" lengthAdjust="spacingAndGlyphs" >Triệu USD</text>
<polygon points="770.9,3771.4 803.9,3771.4 787.4,3800.4" fill="#ec1c24"/>
<text x="815.3" y="3797.9" font-family="'DejaVu Sans', 'Liberation Sans', sans-serif" font-size="25" font-weight="bold" fill="#111" textLength="53.9" lengthAdjust="spacingAndGlyphs" >24%</text>
<text x="83.7" y="3859.0" font-family="'DejaVu Serif', 'Liberation Serif', serif" font-size="19" font-weight="bold" fill="#111" textLength="162.2" lengthAdjust="spacingAndGlyphs" >Xăng dầu các loại</text>
<rect x="83.5" y="3869.3" width="450.5" height="14.7" fill="#088a8c" />
<line x1="537.0" y1="3877.7" x2="917" y2="3877.7" stroke="#6d7377" stroke-width="1.3" stroke-dasharray="5 4"/>
<text x="576.6" y="3863.4" font-family="'DejaVu Sans Condensed', 'DejaVu Sans', 'Liberation Sans', sans-serif" font-size="30" font-weight="bold" fill="#111" textLength="35.8" lengthAdjust="spacingAndGlyphs" >311</text>
<text x="618.0" y="3863.4" font-family="'DejaVu Serif Condensed', 'DejaVu Serif', 'Liberation Serif', serif" font-size="18" font-weight="bold" fill="#111" textLength="92.7" lengthAdjust="spacingAndGlyphs" >Triệu USD</text>
<polygon points="770.9,3836.9 803.9,3836.9 787.4,3865.9" fill="#ec1c24"/>
<text x="815.3" y="3863.4" font-family="'DejaVu Sans', 'Liberation Sans', sans-serif" font-size="25" font-weight="bold" fill="#111" textLength="37.9" lengthAdjust="spacingAndGlyphs" >8%</text>
<text x="83.7" y="3924.0" font-family="'DejaVu Serif', 'Liberation Serif', serif" font-size="19" font-weight="bold" fill="#111" textLength="237.7" lengthAdjust="spacingAndGlyphs" >Ô tô nguyên chiếc các loại</text>
<rect x="83.5" y="3934.4" width="200.5" height="14.7" fill="#088a8c" />
<line x1="287.0" y1="3942.8" x2="917" y2="3942.8" stroke="#6d7377" stroke-width="1.3" stroke-dasharray="5 4"/>
<text x="575.1" y="3929.0" font-family="'DejaVu Sans Condensed', 'DejaVu Sans', 'Liberation Sans', sans-serif" font-size="30" font-weight="bold" fill="#111" textLength="39.3" lengthAdjust="spacingAndGlyphs" >161</text>
<text x="618.0" y="3929.0" font-family="'DejaVu Serif Condensed', 'DejaVu Serif', 'Liberation Serif', serif" font-size="18" font-weight="bold" fill="#111" textLength="92.7" lengthAdjust="spacingAndGlyphs" >Triệu USD</text>
<polygon points="770.9,3930.5 803.9,3930.5 787.4,3901.5" fill="#3fae49"/>
<text x="815.3" y="3929.0" font-family="'DejaVu Sans', 'Liberation Sans', sans-serif" font-size="25" font-weight="bold" fill="#111" textLength="60.9" lengthAdjust="spacingAndGlyphs" >4,5%</text>
<text x="83.7" y="3990.0" font-family="'DejaVu Serif', 'Liberation Serif', serif" font-size="19" font-weight="bold" fill="#111" textLength="108.6" lengthAdjust="spacingAndGlyphs" >Dược phẩm</text>
<rect x="83.5" y="3999.6" width="251.5" height="14.7" fill="#088a8c" />
<line x1="338.0" y1="4007.9" x2="917" y2="4007.9" stroke="#6d7377" stroke-width="1.3" stroke-dasharray="5 4"/>
<text x="574.1" y="3994.5" font-family="'DejaVu Sans Condensed', 'DejaVu Sans', 'Liberation Sans', sans-serif" font-size="30" font-weight="bold" fill="#111" textLength="57.9" lengthAdjust="spacingAndGlyphs" >195</text>
<text x="637.4" y="3994.5" font-family="'DejaVu Serif Condensed', 'DejaVu Serif', 'Liberation Serif', serif" font-size="18" font-weight="bold" fill="#111" textLength="92.8" lengthAdjust="spacingAndGlyphs" >Triệu USD</text>
<polygon points="770.9,3996.0 803.9,3996.0 787.4,3967.0" fill="#3fae49"/>
<text x="814.5" y="3994.5" font-family="'DejaVu Sans', 'Liberation Sans', sans-serif" font-size="25" font-weight="bold" fill="#111" textLength="49.7" lengthAdjust="spacingAndGlyphs" >12%</text>
<text x="242.7" y="4086.4" font-family="'DejaVu Serif Condensed', 'DejaVu Serif', 'Liberation Serif', serif" font-size="18.7" font-weight="bold" fill="#111" textLength="527.9" lengthAdjust="spacingAndGlyphs" >TRỊ GIÁ NHẬP KHẨU CỦA MỘT SỐ NHÓM HÀNG LỚN</text>
<text x="244.7" y="4113.6" font-family="'DejaVu Serif Condensed', 'DejaVu Serif', 'Liberation Serif', serif" font-size="22" font-weight="normal" fill="#222" textLength="520.0" lengthAdjust="spacingAndGlyphs" >Kỳ 1 tháng  7 năm 2024 so với kỳ 1 tháng 6 năm 2024</text>
<polyline points="83.5,4132.6 469.7,4132.6 494.6,4155 519.4,4132.6 914,4132.6" fill="none" stroke="#6a9294" stroke-width="3.2"/>
<line x1="118" y1="4779.4" x2="910" y2="4779.4" stroke="#7f8f99" stroke-width="1" stroke-dasharray="5 4" opacity="0.9"/>
<line x1="118" y1="4736.8" x2="910" y2="4736.8" stroke="#7f8f99" stroke-width="1" stroke-dasharray="5 4" opacity="0.9"/>
<line x1="118" y1="4694.3" x2="910" y2="4694.3" stroke="#7f8f99" stroke-width="1" stroke-dasharray="5 4" opacity="0.9"/>
<line x1="118" y1="4651.7" x2="910" y2="4651.7" stroke="#7f8f99" stroke-width="1" stroke-dasharray="5 4" opacity="0.9"/>
<line x1="118" y1="4609.1" x2="910" y2="4609.1" stroke="#7f8f99" stroke-width="1" stroke-dasharray="5 4" opacity="0.9"/>
<line x1="118" y1="4566.5" x2="910" y2="4566.5" stroke="#7f8f99" stroke-width="1" stroke-dasharray="5 4" opacity="0.9"/>
<line x1="118" y1="4523.9" x2="910" y2="4523.9" stroke="#7f8f99" stroke-width="1" stroke-dasharray="5 4" opacity="0.9"/>
<line x1="118" y1="4481.4" x2="910" y2="4481.4" stroke="#7f8f99" stroke-width="1" stroke-dasharray="5 4" opacity="0.9"/>
<line x1="118" y1="4438.8" x2="910" y2="4438.8" stroke="#7f8f99" stroke-width="1" stroke-dasharray="5 4" opacity="0.9"/>
<line x1="118" y1="4396.2" x2="910" y2="4396.2" stroke="#7f8f99" stroke-width="1" stroke-dasharray="5 4" opacity="0.9"/>
<line x1="118" y1="4353.6" x2="910" y2="4353.6" stroke="#7f8f99" stroke-width="1" stroke-dasharray="5 4" opacity="0.9"/>
<line x1="118" y1="4311.0" x2="910" y2="4311.0" stroke="#7f8f99" stroke-width="1" stroke-dasharray="5 4" opacity="0.9"/>
<rect x="129.0" y="4285.0" width="27.0" height="537.0" fill="#f28a23" />
<rect x="156.0" y="4310.2" width="27.0" height="511.8" fill="#078a8c" />
<text transform="translate(149.0,4276.0) rotate(-90)" x="0" y="0" font-family="'DejaVu Sans Condensed', 'DejaVu Sans', 'Liberation Sans', sans-serif" font-size="19" font-weight="bold" fill="#111" textLength="22.5" lengthAdjust="spacingAndGlyphs">4,9</text>
<text transform="translate(176.0,4301.2) rotate(-90)" x="0" y="0" font-family="'DejaVu Sans Condensed', 'DejaVu Sans', 'Liberation Sans', sans-serif" font-size="19" font-weight="bold" fill="#111" textLength="22.5" lengthAdjust="spacingAndGlyphs">4,5</text>
<rect x="208.6" y="4481.7" width="27.0" height="340.3" fill="#f28a23" />
<rect x="235.6" y="4491.8" width="27.0" height="330.2" fill="#078a8c" />
<text transform="translate(228.6,4472.7) rotate(-90)" x="0" y="0" font-family="'DejaVu Sans Condensed', 'DejaVu Sans', 'Liberation Sans', sans-serif" font-size="19" font-weight="bold" fill="#111" textLength="22.5" lengthAdjust="spacingAndGlyphs">2,0</text>
<text transform="translate(255.6,4482.8) rotate(-90)" x="0" y="0" font-family="'DejaVu Sans Condensed', 'DejaVu Sans', 'Liberation Sans', sans-serif" font-size="19" font-weight="bold" fill="#111" textLength="22.5" lengthAdjust="spacingAndGlyphs">1,9</text>
<rect x="288.2" y="4748.0" width="27.0" height="74.0" fill="#f28a23" />
<rect x="315.2" y="4760.5" width="27.0" height="61.5" fill="#078a8c" />
<text transform="translate(308.2,4739.0) rotate(-90)" x="0" y="0" font-family="'DejaVu Sans Condensed', 'DejaVu Sans', 'Liberation Sans', sans-serif" font-size="19" font-weight="bold" fill="#111" textLength="22.5" lengthAdjust="spacingAndGlyphs">0,4</text>
<text transform="translate(335.2,4751.5) rotate(-90)" x="0" y="0" font-family="'DejaVu Sans Condensed', 'DejaVu Sans', 'Liberation Sans', sans-serif" font-size="19" font-weight="bold" fill="#111" textLength="22.5" lengthAdjust="spacingAndGlyphs">0,3</text>
<rect x="367.8" y="4748.0" width="27.0" height="74.0" fill="#f28a23" />
<rect x="394.8" y="4748.0" width="27.0" height="74.0" fill="#078a8c" />
<text transform="translate(387.8,4739.0) rotate(-90)" x="0" y="0" font-family="'DejaVu Sans Condensed', 'DejaVu Sans', 'Liberation Sans', sans-serif" font-size="19" font-weight="bold" fill="#111" textLength="22.5" lengthAdjust="spacingAndGlyphs">0,4</text>
<text transform="translate(414.8,4739.0) rotate(-90)" x="0" y="0" font-family="'DejaVu Sans Condensed', 'DejaVu Sans', 'Liberation Sans', sans-serif" font-size="19" font-weight="bold" fill="#111" textLength="22.5" lengthAdjust="spacingAndGlyphs">0,4</text>
<rect x="447.4" y="4748.0" width="27.0" height="74.0" fill="#f28a23" />
<rect x="474.4" y="4748.0" width="27.0" height="74.0" fill="#078a8c" />
<text transform="translate(467.4,4739.0) rotate(-90)" x="0" y="0" font-family="'DejaVu Sans Condensed', 'DejaVu Sans', 'Liberation Sans', sans-serif" font-size="19" font-weight="bold" fill="#111" textLength="22.5" lengthAdjust="spacingAndGlyphs">0,4</text>
<text transform="translate(494.4,4739.0) rotate(-90)" x="0" y="0" font-family="'DejaVu Sans Condensed', 'DejaVu Sans', 'Liberation Sans', sans-serif" font-size="19" font-weight="bold" fill="#111" textLength="22.5" lengthAdjust="spacingAndGlyphs">0,4</text>
<rect x="527.0" y="4760.3" width="27.0" height="61.7" fill="#f28a23" />
<rect x="554.0" y="4760.3" width="27.0" height="61.7" fill="#078a8c" />
<text transform="translate(547.0,4751.3) rotate(-90)" x="0" y="0" font-family="'DejaVu Sans Condensed', 'DejaVu Sans', 'Liberation Sans', sans-serif" font-size="19" font-weight="bold" fill="#111" textLength="22.5" lengthAdjust="spacingAndGlyphs">0,3</text>
<text transform="translate(574.0,4751.3) rotate(-90)" x="0" y="0" font-family="'DejaVu Sans Condensed', 'DejaVu Sans', 'Liberation Sans', sans-serif" font-size="19" font-weight="bold" fill="#111" textLength="22.5" lengthAdjust="spacingAndGlyphs">0,3</text>
<rect x="606.6" y="4726.7" width="27.0" height="95.3" fill="#f28a23" />
<rect x="633.6" y="4726.7" width="27.0" height="95.3" fill="#078a8c" />
<text transform="translate(626.6,4717.7) rotate(-90)" x="0" y="0" font-family="'DejaVu Sans Condensed', 'DejaVu Sans', 'Liberation Sans', sans-serif" font-size="19" font-weight="bold" fill="#111" textLength="22.5" lengthAdjust="spacingAndGlyphs">0,6</text>
<text transform="translate(653.6,4717.7) rotate(-90)" x="0" y="0" font-family="'DejaVu Sans Condensed', 'DejaVu Sans', 'Liberation Sans', sans-serif" font-size="19" font-weight="bold" fill="#111" textLength="22.5" lengthAdjust="spacingAndGlyphs">0,6</text>
<rect x="686.2" y="4748.5" width="27.0" height="73.5" fill="#f28a23" />
<rect x="713.2" y="4748.5" width="27.0" height="73.5" fill="#078a8c" />
<text transform="translate(706.2,4739.5) rotate(-90)" x="0" y="0" font-family="'DejaVu Sans Condensed', 'DejaVu Sans', 'Liberation Sans', sans-serif" font-size="19" font-weight="bold" fill="#111" textLength="22.5" lengthAdjust="spacingAndGlyphs">0,4</text>
<text transform="translate(733.2,4739.5) rotate(-90)" x="0" y="0" font-family="'DejaVu Sans Condensed', 'DejaVu Sans', 'Liberation Sans', sans-serif" font-size="19" font-weight="bold" fill="#111" textLength="22.5" lengthAdjust="spacingAndGlyphs">0,4</text>
<rect x="765.8" y="4769.0" width="27.0" height="53.0" fill="#f28a23" />
<rect x="792.8" y="4769.0" width="27.0" height="53.0" fill="#078a8c" />
<text transform="translate(785.8,4760.0) rotate(-90)" x="0" y="0" font-family="'DejaVu Sans Condensed', 'DejaVu Sans', 'Liberation Sans', sans-serif" font-size="19" font-weight="bold" fill="#111" textLength="22.5" lengthAdjust="spacingAndGlyphs">0,2</text>
<text transform="translate(812.8,4760.0) rotate(-90)" x="0" y="0" font-family="'DejaVu Sans Condensed', 'DejaVu Sans', 'Liberation Sans', sans-serif" font-size="19" font-weight="bold" fill="#111" textLength="22.5" lengthAdjust="spacingAndGlyphs">0,2</text>
<rect x="845.4" y="4668.0" width="27.0" height="154.0" fill="#f28a23" />
<rect x="872.4" y="4677.0" width="27.0" height="145.0" fill="#078a8c" />
<text transform="translate(865.4,4659.0) rotate(-90)" x="0" y="0" font-family="'DejaVu Sans Condensed', 'DejaVu Sans', 'Liberation Sans', sans-serif" font-size="19" font-weight="bold" fill="#111" textLength="22.5" lengthAdjust="spacingAndGlyphs">0,8</text>
<text transform="translate(892.4,4668.0) rotate(-90)" x="0" y="0" font-family="'DejaVu Sans Condensed', 'DejaVu Sans', 'Liberation Sans', sans-serif" font-size="19" font-weight="bold" fill="#111" textLength="22.5" lengthAdjust="spacingAndGlyphs">0,7</text>
<line x1="118" y1="4251" x2="118" y2="4830" stroke="#333" stroke-width="1.3"/>
<line x1="112" y1="4822" x2="910" y2="4822" stroke="#333" stroke-width="1.3"/>
<line x1="195.8" y1="4822" x2="195.8" y2="4837" stroke="#555" stroke-width="1"/>
<line x1="275.4" y1="4822" x2="275.4" y2="4837" stroke="#555" stroke-width="1"/>
<line x1="355.0" y1="4822" x2="355.0" y2="4837" stroke="#555" stroke-width="1"/>
<line x1="434.6" y1="4822" x2="434.6" y2="4837" stroke="#555" stroke-width="1"/>
<line x1="514.2" y1="4822" x2="514.2" y2="4837" stroke="#555" stroke-width="1"/>
<line x1="593.8" y1="4822" x2="593.8" y2="4837" stroke="#555" stroke-width="1"/>
<line x1="673.4" y1="4822" x2="673.4" y2="4837" stroke="#555" stroke-width="1"/>
<line x1="753.0" y1="4822" x2="753.0" y2="4837" stroke="#555" stroke-width="1"/>
<line x1="832.6" y1="4822" x2="832.6" y2="4837" stroke="#555" stroke-width="1"/>
<text x="107.0" y="4826.5" font-family="'DejaVu Sans Condensed', 'DejaVu Sans', 'Liberation Sans', sans-serif" font-size="12.5" font-weight="normal" fill="#222" text-anchor="end" >0</text>
<text x="107.0" y="4741.3" font-family="'DejaVu Sans Condensed', 'DejaVu Sans', 'Liberation Sans', sans-serif" font-size="12.5" font-weight="normal" fill="#222" text-anchor="end" >0,5</text>
<text x="107.0" y="4656.2" font-family="'DejaVu Sans Condensed', 'DejaVu Sans', 'Liberation Sans', sans-serif" font-size="12.5" font-weight="normal" fill="#222" text-anchor="end" >1</text>
<text x="107.0" y="4571.0" font-family="'DejaVu Sans Condensed', 'DejaVu Sans', 'Liberation Sans', sans-serif" font-size="12.5" font-weight="normal" fill="#222" text-anchor="end" >1,5</text>
<text x="107.0" y="4485.9" font-family="'DejaVu Sans Condensed', 'DejaVu Sans', 'Liberation Sans', sans-serif" font-size="12.5" font-weight="normal" fill="#222" text-anchor="end" >2</text>
<text x="107.0" y="4400.7" font-family="'DejaVu Sans Condensed', 'DejaVu Sans', 'Liberation Sans', sans-serif" font-size="12.5" font-weight="normal" fill="#222" text-anchor="end" >4</text>
<text x="107.0" y="4315.5" font-family="'DejaVu Sans Condensed', 'DejaVu Sans', 'Liberation Sans', sans-serif" font-size="12.5" font-weight="normal" fill="#222" text-anchor="end" >4,5</text>
<text x="156.0" y="4843.5" font-family="'DejaVu Sans Condensed', 'DejaVu Sans', 'Liberation Sans', sans-serif" font-size="13" font-weight="normal" fill="#111" text-anchor="middle" stroke="#111" stroke-width="0.3" transform="translate(156.0,0) scale(0.7,1) translate(-156.0,0)">MÁY VI TÍNH</text>
<text x="156.0" y="4860.5" font-family="'DejaVu Sans Condensed', 'DejaVu Sans', 'Liberation Sans', sans-serif" font-size="13" font-weight="normal" fill="#111" text-anchor="middle" stroke="#111" stroke-width="0.3" transform="translate(156.0,0) scale(0.7,1) translate(-156.0,0)">SẢN PHẨM</text>
<text x="156.0" y="4877.5" font-family="'DejaVu Sans Condensed', 'DejaVu Sans', 'Liberation Sans', sans-serif" font-size="13" font-weight="normal" fill="#111" text-anchor="middle" stroke="#111" stroke-width="0.3" transform="translate(156.0,0) scale(0.7,1) translate(-156.0,0)">ĐIỆN TỬ</text>
<text x="156.0" y="4894.5" font-family="'DejaVu Sans Condensed', 'DejaVu Sans', 'Liberation Sans', sans-serif" font-size="13" font-weight="normal" fill="#111" text-anchor="middle" stroke="#111" stroke-width="0.3" transform="translate(156.0,0) scale(0.7,1) translate(-156.0,0)">&amp; LINH KIỆN</text>
<text x="235.6" y="4843.5" font-family="'DejaVu Sans Condensed', 'DejaVu Sans', 'Liberation Sans', sans-serif" font-size="13" font-weight="normal" fill="#111" text-anchor="middle" stroke="#111" stroke-width="0.3" transform="translate(235.6,0) scale(0.7,1) translate(-235.6,0)">MÁY MÓC</text>
<text x="235.6" y="4860.5" font-family="'DejaVu Sans Condensed', 'DejaVu Sans', 'Liberation Sans', sans-serif" font-size="13" font-weight="normal" fill="#111" text-anchor="middle" stroke="#111" stroke-width="0.3" transform="translate(235.6,0) scale(0.7,1) translate(-235.6,0)">THIẾT BỊ</text>
<text x="235.6" y="4877.5" font-family="'DejaVu Sans Condensed', 'DejaVu Sans', 'Liberation Sans', sans-serif" font-size="13" font-weight="normal" fill="#111" text-anchor="middle" stroke="#111" stroke-width="0.3" transform="translate(235.6,0) scale(0.7,1) translate(-235.6,0)">DỤNG CỤ</text>
<text x="235.6" y="4894.5" font-family="'DejaVu Sans Condensed', 'DejaVu Sans', 'Liberation Sans', sans-serif" font-size="13" font-weight="normal" fill="#111" text-anchor="middle" stroke="#111" stroke-width="0.3" transform="translate(235.6,0) scale(0.7,1) translate(-235.6,0)">PHỤ TÙNG</text>
<text x="235.6" y="4911.5" font-family="'DejaVu Sans Condensed', 'DejaVu Sans', 'Liberation Sans', sans-serif" font-size="13" font-weight="normal" fill="#111" text-anchor="middle" stroke="#111" stroke-width="0.3" transform="translate(235.6,0) scale(0.7,1) translate(-235.6,0)">KHÁC</text>
<text x="315.2" y="4843.5" font-family="'DejaVu Sans Condensed', 'DejaVu Sans', 'Liberation Sans', sans-serif" font-size="13" font-weight="normal" fill="#111" text-anchor="middle" stroke="#111" stroke-width="0.3" transform="translate(315.2,0) scale(0.7,1) translate(-315.2,0)">ĐIỆN THOẠI</text>
<text x="315.2" y="4860.5" font-family="'DejaVu Sans Condensed', 'DejaVu Sans', 'Liberation Sans', sans-serif" font-size="13" font-weight="normal" fill="#111" text-anchor="middle" stroke="#111" stroke-width="0.3" transform="translate(315.2,0) scale(0.7,1) translate(-315.2,0)">&amp; LINH KIỆN</text>
<text x="394.8" y="4843.5" font-family="'DejaVu Sans Condensed', 'DejaVu Sans', 'Liberation Sans', sans-serif" font-size="13" font-weight="normal" fill="#111" text-anchor="middle" stroke="#111" stroke-width="0.3" transform="translate(394.8,0) scale(0.7,1) translate(-394.8,0)">CHẤT DẺO</text>
<text x="394.8" y="4860.5" font-family="'DejaVu Sans Condensed', 'DejaVu Sans', 'Liberation Sans', sans-serif" font-size="13" font-weight="normal" fill="#111" text-anchor="middle" stroke="#111" stroke-width="0.3" transform="translate(394.8,0) scale(0.7,1) translate(-394.8,0)">NGUYÊN LIỆU</text>
<text x="474.4" y="4843.5" font-family="'DejaVu Sans Condensed', 'DejaVu Sans', 'Liberation Sans', sans-serif" font-size="13" font-weight="normal" fill="#111" text-anchor="middle" stroke="#111" stroke-width="0.3" transform="translate(474.4,0) scale(0.7,1) translate(-474.4,0)">SẮT</text>
<text x="474.4" y="4860.5" font-family="'DejaVu Sans Condensed', 'DejaVu Sans', 'Liberation Sans', sans-serif" font-size="13" font-weight="normal" fill="#111" text-anchor="middle" stroke="#111" stroke-width="0.3" transform="translate(474.4,0) scale(0.7,1) translate(-474.4,0)">THÉP</text>
<text x="554.0" y="4843.5" font-family="'DejaVu Sans Condensed', 'DejaVu Sans', 'Liberation Sans', sans-serif" font-size="13" font-weight="normal" fill="#111" text-anchor="middle" stroke="#111" stroke-width="0.3" transform="translate(554.0,0) scale(0.7,1) translate(-554.0,0)">SẢN PHẨM</text>
<text x="554.0" y="4860.5" font-family="'DejaVu Sans Condensed', 'DejaVu Sans', 'Liberation Sans', sans-serif" font-size="13" font-weight="normal" fill="#111" text-anchor="middle" stroke="#111" stroke-width="0.3" transform="translate(554.0,0) scale(0.7,1) translate(-554.0,0)">TỪ CHẤT DẺO</text>
<text x="633.6" y="4843.5" font-family="'DejaVu Sans Condensed', 'DejaVu Sans', 'Liberation Sans', sans-serif" font-size="13" font-weight="normal" fill="#111" text-anchor="middle" stroke="#111" stroke-width="0.3" transform="translate(633.6,0) scale(0.7,1) translate(-633.6,0)">VẢI CÁC LOẠI</text>
<text x="713.2" y="4843.5" font-family="'DejaVu Sans Condensed', 'DejaVu Sans', 'Liberation Sans', sans-serif" font-size="13" font-weight="normal" fill="#111" text-anchor="middle" stroke="#111" stroke-width="0.3" transform="translate(713.2,0) scale(0.7,1) translate(-713.2,0)">KIM LOẠI</text>
<text x="713.2" y="4860.5" font-family="'DejaVu Sans Condensed', 'DejaVu Sans', 'Liberation Sans', sans-serif" font-size="13" font-weight="normal" fill="#111" text-anchor="middle" stroke="#111" stroke-width="0.3" transform="translate(713.2,0) scale(0.7,1) translate(-713.2,0)">THƯỜNG KHÁC</text>
<text x="792.8" y="4843.5" font-family="'DejaVu Sans Condensed', 'DejaVu Sans', 'Liberation Sans', sans-serif" font-size="13" font-weight="normal" fill="#111" text-anchor="middle" stroke="#111" stroke-width="0.3" transform="translate(792.8,0) scale(0.7,1) translate(-792.8,0)">NGUYÊN PHỤ</text>
<text x="792.8" y="4860.5" font-family="'DejaVu Sans Condensed', 'DejaVu Sans', 'Liberation Sans', sans-serif" font-size="13" font-weight="normal" fill="#111" text-anchor="middle" stroke="#111" stroke-width="0.3" transform="translate(792.8,0) scale(0.7,1) translate(-792.8,0)">LIỆU DỆT, MAY,</text>
<text x="792.8" y="4877.5" font-family="'DejaVu Sans Condensed', 'DejaVu Sans', 'Liberation Sans', sans-serif" font-size="13" font-weight="normal" fill="#111" text-anchor="middle" stroke="#111" stroke-width="0.3" transform="translate(792.8,0) scale(0.7,1) translate(-792.8,0)">DA, GIÀY</text>
<text x="872.4" y="4843.5" font-family="'DejaVu Sans Condensed', 'DejaVu Sans', 'Liberation Sans', sans-serif" font-size="13" font-weight="normal" fill="#111" text-anchor="middle" stroke="#111" stroke-width="0.3" transform="translate(872.4,0) scale(0.7,1) translate(-872.4,0)">HÀNG HÓA</text>
<text x="872.4" y="4860.5" font-family="'DejaVu Sans Condensed', 'DejaVu Sans', 'Liberation Sans', sans-serif" font-size="13" font-weight="normal" fill="#111" text-anchor="middle" stroke="#111" stroke-width="0.3" transform="translate(872.4,0) scale(0.7,1) translate(-872.4,0)">KHÁC</text>
<rect x="305.5" y="4175.8" width="25.0" height="24.5" fill="#f28a23" />
<text x="338.5" y="4197.0" font-family="'DejaVu Sans Condensed', 'DejaVu Sans', 'Liberation Sans', sans-serif" font-size="17" font-weight="normal" fill="#111" textLength="131.9" lengthAdjust="spacingAndGlyphs" >KỲ 1 THÁNG 7/2024</text>
<rect x="510.4" y="4174.9" width="25.5" height="25.5" fill="#078a8c" />
<text x="543.2" y="4197.0" font-family="'DejaVu Sans Condensed', 'DejaVu Sans', 'Liberation Sans', sans-serif" font-size="17" font-weight="normal" fill="#111" textLength="134.6" lengthAdjust="spacingAndGlyphs" >KỲ 1  THÁNG 6/2024</text>
<text x="91.1" y="4234.0" font-family="'DejaVu Sans Condensed', 'DejaVu Sans', 'Liberation Sans', sans-serif" font-size="16.5" font-weight="bold" fill="#111" textLength="55.0" lengthAdjust="spacingAndGlyphs" >TỶ USD</text>
</svg></body></html>
